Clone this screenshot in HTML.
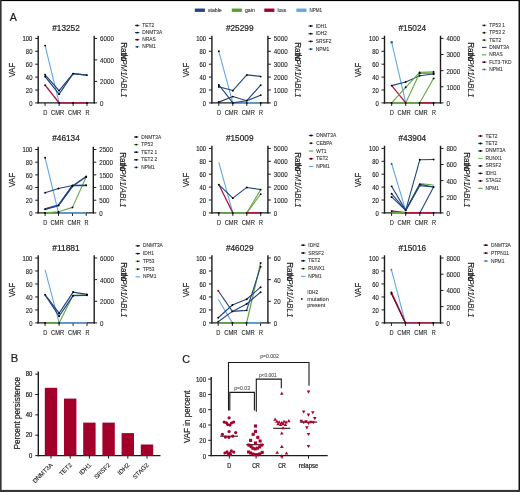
<!DOCTYPE html><html><head><meta charset="utf-8"><style>html,body{margin:0;padding:0;background:#fff;overflow:hidden}svg{display:block;will-change:transform}</style></head><body>
<svg width="520" height="492" viewBox="0 0 520 492" style="font-family:'Liberation Sans',sans-serif">
<style>text{stroke:#222;stroke-width:0.22px}</style>
<rect x="0" y="0" width="520" height="492" fill="#fff"/>
<rect x="194.8" y="8.55" width="10.1" height="3.35" fill="#22447f"/>
<text x="207.90" y="11.95" font-size="5.9" text-anchor="start" fill="#2e2e2e" textLength="13.8" lengthAdjust="spacingAndGlyphs"  style="stroke:#555;stroke-width:0.15px">stable</text>
<rect x="231.8" y="8.55" width="10.1" height="3.35" fill="#58a02e"/>
<text x="244.90" y="11.95" font-size="5.9" text-anchor="start" fill="#2e2e2e" textLength="10.0" lengthAdjust="spacingAndGlyphs"  style="stroke:#555;stroke-width:0.15px">gain</text>
<rect x="264.3" y="8.55" width="10.1" height="3.35" fill="#a2002a"/>
<text x="277.40" y="11.95" font-size="5.9" text-anchor="start" fill="#2e2e2e" textLength="9.0" lengthAdjust="spacingAndGlyphs"  style="stroke:#555;stroke-width:0.15px">loss</text>
<rect x="296.4" y="8.55" width="10.1" height="3.35" fill="#62a6e6"/>
<text x="309.50" y="11.95" font-size="5.9" text-anchor="start" fill="#2e2e2e" textLength="12.5" lengthAdjust="spacingAndGlyphs"  style="stroke:#555;stroke-width:0.15px">NPM1</text>
<text x="9.70" y="21.00" font-size="10.6" text-anchor="start" fill="#1e1e1e"  style="">A</text>
<text x="10.70" y="362.30" font-size="11.2" text-anchor="start" fill="#1e1e1e"  style="">B</text>
<text x="182.30" y="362.70" font-size="10.8" text-anchor="start" fill="#1e1e1e"  style="">C</text>
<text x="66.00" y="30.90" font-size="8.6" text-anchor="middle" fill="#1e1e1e" textLength="27.6" lengthAdjust="spacingAndGlyphs"  style="">#13252</text>
<line x1="38.2" y1="35.7" x2="38.2" y2="103.60000000000001" stroke="#1c1c1c" stroke-width="1.4"/>
<line x1="94.2" y1="35.7" x2="94.2" y2="103.60000000000001" stroke="#1c1c1c" stroke-width="1.4"/>
<line x1="37.5" y1="102.9" x2="94.9" y2="102.9" stroke="#1c1c1c" stroke-width="1.4"/>
<line x1="35.2" y1="102.90" x2="38.2" y2="102.90" stroke="#1c1c1c" stroke-width="1"/>
<text x="32.40" y="105.80" font-size="6.9" text-anchor="end" fill="#1e1e1e" textLength="3.27" lengthAdjust="spacingAndGlyphs"  style="stroke-width:0.14px">0</text>
<line x1="35.2" y1="90.00" x2="38.2" y2="90.00" stroke="#1c1c1c" stroke-width="1"/>
<text x="32.40" y="92.90" font-size="6.9" text-anchor="end" fill="#1e1e1e" textLength="6.54" lengthAdjust="spacingAndGlyphs"  style="stroke-width:0.14px">20</text>
<line x1="35.2" y1="77.10" x2="38.2" y2="77.10" stroke="#1c1c1c" stroke-width="1"/>
<text x="32.40" y="80.00" font-size="6.9" text-anchor="end" fill="#1e1e1e" textLength="6.54" lengthAdjust="spacingAndGlyphs"  style="stroke-width:0.14px">40</text>
<line x1="35.2" y1="64.20" x2="38.2" y2="64.20" stroke="#1c1c1c" stroke-width="1"/>
<text x="32.40" y="67.10" font-size="6.9" text-anchor="end" fill="#1e1e1e" textLength="6.54" lengthAdjust="spacingAndGlyphs"  style="stroke-width:0.14px">60</text>
<line x1="35.2" y1="51.30" x2="38.2" y2="51.30" stroke="#1c1c1c" stroke-width="1"/>
<text x="32.40" y="54.20" font-size="6.9" text-anchor="end" fill="#1e1e1e" textLength="6.54" lengthAdjust="spacingAndGlyphs"  style="stroke-width:0.14px">80</text>
<line x1="35.2" y1="38.40" x2="38.2" y2="38.40" stroke="#1c1c1c" stroke-width="1"/>
<text x="32.40" y="41.30" font-size="6.9" text-anchor="end" fill="#1e1e1e" textLength="9.81" lengthAdjust="spacingAndGlyphs"  style="stroke-width:0.14px">100</text>
<line x1="94.2" y1="102.90" x2="97.2" y2="102.90" stroke="#1c1c1c" stroke-width="1"/>
<text x="100.10" y="105.80" font-size="6.9" text-anchor="start" fill="#1e1e1e" textLength="3.45" lengthAdjust="spacingAndGlyphs"  style="stroke-width:0.1px">0</text>
<line x1="94.2" y1="81.40" x2="97.2" y2="81.40" stroke="#1c1c1c" stroke-width="1"/>
<text x="100.10" y="84.30" font-size="6.9" text-anchor="start" fill="#1e1e1e" textLength="13.8" lengthAdjust="spacingAndGlyphs"  style="stroke-width:0.1px">2000</text>
<line x1="94.2" y1="59.90" x2="97.2" y2="59.90" stroke="#1c1c1c" stroke-width="1"/>
<text x="100.10" y="62.80" font-size="6.9" text-anchor="start" fill="#1e1e1e" textLength="13.8" lengthAdjust="spacingAndGlyphs"  style="stroke-width:0.1px">4000</text>
<line x1="94.2" y1="38.40" x2="97.2" y2="38.40" stroke="#1c1c1c" stroke-width="1"/>
<text x="100.10" y="41.30" font-size="6.9" text-anchor="start" fill="#1e1e1e" textLength="13.8" lengthAdjust="spacingAndGlyphs"  style="stroke-width:0.1px">6000</text>
<line x1="45.10" y1="102.9" x2="45.10" y2="105.9" stroke="#1c1c1c" stroke-width="1"/>
<line x1="59.10" y1="102.9" x2="59.10" y2="105.9" stroke="#1c1c1c" stroke-width="1"/>
<line x1="73.10" y1="102.9" x2="73.10" y2="105.9" stroke="#1c1c1c" stroke-width="1"/>
<line x1="87.00" y1="102.9" x2="87.00" y2="105.9" stroke="#1c1c1c" stroke-width="1"/>
<text x="45.30" y="115.10" font-size="6.9" text-anchor="middle" fill="#1e1e1e" textLength="4.1" lengthAdjust="spacingAndGlyphs"  style="stroke-width:0.1px">D</text>
<text x="57.60" y="115.10" font-size="6.9" text-anchor="middle" fill="#1e1e1e" textLength="13.2" lengthAdjust="spacingAndGlyphs"  style="stroke-width:0.1px">CMR</text>
<text x="74.60" y="115.10" font-size="6.9" text-anchor="middle" fill="#1e1e1e" textLength="13.2" lengthAdjust="spacingAndGlyphs"  style="stroke-width:0.1px">CMR</text>
<text x="87.40" y="115.10" font-size="6.9" text-anchor="middle" fill="#1e1e1e" textLength="4.0" lengthAdjust="spacingAndGlyphs"  style="stroke-width:0.1px">R</text>
<text x="0" y="0" font-size="8.6" text-anchor="middle" fill="#1e1e1e" textLength="14.4" lengthAdjust="spacingAndGlyphs" transform="translate(14.80,70.00) rotate(-90)">VAF</text>
<text x="0" y="0" font-size="8.6" fill="#1e1e1e" textLength="19" lengthAdjust="spacingAndGlyphs" transform="translate(121.20,42.20) rotate(90)">Ratio</text>
<text x="0" y="0" font-size="8.6" font-style="italic" fill="#1e1e1e" textLength="44" lengthAdjust="spacingAndGlyphs" style="stroke-width:0.05px" transform="translate(121.20,53.40) rotate(90)">NPM1/ABL1</text>
<line x1="135.00" y1="25.50" x2="139.40" y2="25.50" stroke="#22447f" stroke-width="1.2"/>
<circle cx="137.20" cy="25.50" r="0.9" fill="#000"/>
<text x="142.30" y="27.00" font-size="5.7" text-anchor="start" fill="#2c2c2c" textLength="11.86" lengthAdjust="spacingAndGlyphs"  style="stroke:#555;stroke-width:0.12px">TET2</text>
<line x1="135.00" y1="32.60" x2="139.40" y2="32.60" stroke="#22447f" stroke-width="1.2"/>
<circle cx="137.20" cy="32.60" r="0.9" fill="#000"/>
<text x="142.30" y="34.10" font-size="5.7" text-anchor="start" fill="#2c2c2c" textLength="19.94" lengthAdjust="spacingAndGlyphs"  style="stroke:#555;stroke-width:0.12px">DNMT3A</text>
<line x1="135.00" y1="39.70" x2="139.40" y2="39.70" stroke="#b41842" stroke-width="1.2"/>
<circle cx="137.20" cy="39.70" r="0.9" fill="#000"/>
<text x="142.30" y="41.20" font-size="5.7" text-anchor="start" fill="#2c2c2c" textLength="13.47" lengthAdjust="spacingAndGlyphs"  style="stroke:#555;stroke-width:0.12px">NRAS</text>
<line x1="135.00" y1="46.80" x2="139.40" y2="46.80" stroke="#62a6e6" stroke-width="1.2"/>
<circle cx="137.20" cy="46.80" r="0.9" fill="#000"/>
<text x="142.30" y="48.30" font-size="5.7" text-anchor="start" fill="#2c2c2c" textLength="13.47" lengthAdjust="spacingAndGlyphs"  style="stroke:#555;stroke-width:0.12px">NPM1</text>
<polyline points="45.10,45.62 59.10,102.90" fill="none" stroke="#62a6e6" stroke-width="1.1" stroke-linejoin="round"/>
<polyline points="45.10,85.10 59.10,102.90 73.10,102.90 87.00,102.90" fill="none" stroke="#b41842" stroke-width="1.5" stroke-linejoin="round"/>
<polyline points="45.10,74.78 59.10,90.58 73.10,73.62 87.00,75.10" fill="none" stroke="#22447f" stroke-width="1.2" stroke-linejoin="round"/>
<polyline points="45.10,76.58 59.10,94.13 73.10,73.62 87.00,75.10" fill="none" stroke="#22447f" stroke-width="1.2" stroke-linejoin="round"/>
<circle cx="45.10" cy="45.62" r="0.95" fill="#000"/>
<circle cx="45.10" cy="85.10" r="0.95" fill="#000"/>
<circle cx="45.10" cy="74.78" r="0.95" fill="#000"/>
<circle cx="45.10" cy="76.58" r="0.95" fill="#000"/>
<circle cx="59.10" cy="90.58" r="0.95" fill="#000"/>
<circle cx="59.10" cy="94.13" r="0.95" fill="#000"/>
<circle cx="59.10" cy="102.90" r="0.95" fill="#000"/>
<circle cx="73.10" cy="73.62" r="0.95" fill="#000"/>
<circle cx="87.00" cy="75.10" r="0.95" fill="#000"/>
<circle cx="73.10" cy="102.90" r="0.95" fill="#000"/>
<circle cx="87.00" cy="102.90" r="0.95" fill="#000"/>
<text x="239.70" y="30.90" font-size="8.6" text-anchor="middle" fill="#1e1e1e" textLength="27.6" lengthAdjust="spacingAndGlyphs"  style="">#25299</text>
<line x1="211.9" y1="35.7" x2="211.9" y2="103.60000000000001" stroke="#1c1c1c" stroke-width="1.4"/>
<line x1="267.9" y1="35.7" x2="267.9" y2="103.60000000000001" stroke="#1c1c1c" stroke-width="1.4"/>
<line x1="211.20000000000002" y1="102.9" x2="268.59999999999997" y2="102.9" stroke="#1c1c1c" stroke-width="1.4"/>
<line x1="208.9" y1="102.90" x2="211.9" y2="102.90" stroke="#1c1c1c" stroke-width="1"/>
<text x="206.10" y="105.80" font-size="6.9" text-anchor="end" fill="#1e1e1e" textLength="3.27" lengthAdjust="spacingAndGlyphs"  style="stroke-width:0.14px">0</text>
<line x1="208.9" y1="90.00" x2="211.9" y2="90.00" stroke="#1c1c1c" stroke-width="1"/>
<text x="206.10" y="92.90" font-size="6.9" text-anchor="end" fill="#1e1e1e" textLength="6.54" lengthAdjust="spacingAndGlyphs"  style="stroke-width:0.14px">20</text>
<line x1="208.9" y1="77.10" x2="211.9" y2="77.10" stroke="#1c1c1c" stroke-width="1"/>
<text x="206.10" y="80.00" font-size="6.9" text-anchor="end" fill="#1e1e1e" textLength="6.54" lengthAdjust="spacingAndGlyphs"  style="stroke-width:0.14px">40</text>
<line x1="208.9" y1="64.20" x2="211.9" y2="64.20" stroke="#1c1c1c" stroke-width="1"/>
<text x="206.10" y="67.10" font-size="6.9" text-anchor="end" fill="#1e1e1e" textLength="6.54" lengthAdjust="spacingAndGlyphs"  style="stroke-width:0.14px">60</text>
<line x1="208.9" y1="51.30" x2="211.9" y2="51.30" stroke="#1c1c1c" stroke-width="1"/>
<text x="206.10" y="54.20" font-size="6.9" text-anchor="end" fill="#1e1e1e" textLength="6.54" lengthAdjust="spacingAndGlyphs"  style="stroke-width:0.14px">80</text>
<line x1="208.9" y1="38.40" x2="211.9" y2="38.40" stroke="#1c1c1c" stroke-width="1"/>
<text x="206.10" y="41.30" font-size="6.9" text-anchor="end" fill="#1e1e1e" textLength="9.81" lengthAdjust="spacingAndGlyphs"  style="stroke-width:0.14px">100</text>
<line x1="267.9" y1="102.90" x2="270.9" y2="102.90" stroke="#1c1c1c" stroke-width="1"/>
<text x="273.80" y="105.80" font-size="6.9" text-anchor="start" fill="#1e1e1e" textLength="3.45" lengthAdjust="spacingAndGlyphs"  style="stroke-width:0.1px">0</text>
<line x1="267.9" y1="90.00" x2="270.9" y2="90.00" stroke="#1c1c1c" stroke-width="1"/>
<text x="273.80" y="92.90" font-size="6.9" text-anchor="start" fill="#1e1e1e" textLength="13.8" lengthAdjust="spacingAndGlyphs"  style="stroke-width:0.1px">1000</text>
<line x1="267.9" y1="77.10" x2="270.9" y2="77.10" stroke="#1c1c1c" stroke-width="1"/>
<text x="273.80" y="80.00" font-size="6.9" text-anchor="start" fill="#1e1e1e" textLength="13.8" lengthAdjust="spacingAndGlyphs"  style="stroke-width:0.1px">2000</text>
<line x1="267.9" y1="64.20" x2="270.9" y2="64.20" stroke="#1c1c1c" stroke-width="1"/>
<text x="273.80" y="67.10" font-size="6.9" text-anchor="start" fill="#1e1e1e" textLength="13.8" lengthAdjust="spacingAndGlyphs"  style="stroke-width:0.1px">3000</text>
<line x1="267.9" y1="51.30" x2="270.9" y2="51.30" stroke="#1c1c1c" stroke-width="1"/>
<text x="273.80" y="54.20" font-size="6.9" text-anchor="start" fill="#1e1e1e" textLength="13.8" lengthAdjust="spacingAndGlyphs"  style="stroke-width:0.1px">4000</text>
<line x1="267.9" y1="38.40" x2="270.9" y2="38.40" stroke="#1c1c1c" stroke-width="1"/>
<text x="273.80" y="41.30" font-size="6.9" text-anchor="start" fill="#1e1e1e" textLength="13.8" lengthAdjust="spacingAndGlyphs"  style="stroke-width:0.1px">5000</text>
<line x1="218.80" y1="102.9" x2="218.80" y2="105.9" stroke="#1c1c1c" stroke-width="1"/>
<line x1="232.80" y1="102.9" x2="232.80" y2="105.9" stroke="#1c1c1c" stroke-width="1"/>
<line x1="246.80" y1="102.9" x2="246.80" y2="105.9" stroke="#1c1c1c" stroke-width="1"/>
<line x1="260.70" y1="102.9" x2="260.70" y2="105.9" stroke="#1c1c1c" stroke-width="1"/>
<text x="219.00" y="115.10" font-size="6.9" text-anchor="middle" fill="#1e1e1e" textLength="4.1" lengthAdjust="spacingAndGlyphs"  style="stroke-width:0.1px">D</text>
<text x="231.30" y="115.10" font-size="6.9" text-anchor="middle" fill="#1e1e1e" textLength="13.2" lengthAdjust="spacingAndGlyphs"  style="stroke-width:0.1px">CMR</text>
<text x="248.30" y="115.10" font-size="6.9" text-anchor="middle" fill="#1e1e1e" textLength="13.2" lengthAdjust="spacingAndGlyphs"  style="stroke-width:0.1px">CMR</text>
<text x="261.10" y="115.10" font-size="6.9" text-anchor="middle" fill="#1e1e1e" textLength="4.0" lengthAdjust="spacingAndGlyphs"  style="stroke-width:0.1px">R</text>
<text x="0" y="0" font-size="8.6" text-anchor="middle" fill="#1e1e1e" textLength="14.4" lengthAdjust="spacingAndGlyphs" transform="translate(188.50,70.00) rotate(-90)">VAF</text>
<text x="0" y="0" font-size="8.6" fill="#1e1e1e" textLength="19" lengthAdjust="spacingAndGlyphs" transform="translate(294.90,42.20) rotate(90)">Ratio</text>
<text x="0" y="0" font-size="8.6" font-style="italic" fill="#1e1e1e" textLength="44" lengthAdjust="spacingAndGlyphs" style="stroke-width:0.05px" transform="translate(294.90,53.40) rotate(90)">NPM1/ABL1</text>
<line x1="308.50" y1="26.00" x2="312.90" y2="26.00" stroke="#22447f" stroke-width="1.2"/>
<circle cx="310.70" cy="26.00" r="0.9" fill="#000"/>
<text x="315.80" y="27.50" font-size="5.7" text-anchor="start" fill="#2c2c2c" textLength="11.05" lengthAdjust="spacingAndGlyphs"  style="stroke:#555;stroke-width:0.12px">IDH1</text>
<line x1="308.50" y1="33.70" x2="312.90" y2="33.70" stroke="#22447f" stroke-width="1.2"/>
<circle cx="310.70" cy="33.70" r="0.9" fill="#000"/>
<text x="315.80" y="35.20" font-size="5.7" text-anchor="start" fill="#2c2c2c" textLength="11.05" lengthAdjust="spacingAndGlyphs"  style="stroke:#555;stroke-width:0.12px">IDH2</text>
<line x1="308.50" y1="41.40" x2="312.90" y2="41.40" stroke="#b41842" stroke-width="1.2"/>
<circle cx="310.70" cy="41.40" r="0.9" fill="#000"/>
<text x="315.80" y="42.90" font-size="5.7" text-anchor="start" fill="#2c2c2c" textLength="15.63" lengthAdjust="spacingAndGlyphs"  style="stroke:#555;stroke-width:0.12px">SRSF2</text>
<line x1="308.50" y1="49.10" x2="312.90" y2="49.10" stroke="#62a6e6" stroke-width="1.2"/>
<circle cx="310.70" cy="49.10" r="0.9" fill="#000"/>
<text x="315.80" y="50.60" font-size="5.7" text-anchor="start" fill="#2c2c2c" textLength="13.47" lengthAdjust="spacingAndGlyphs"  style="stroke:#555;stroke-width:0.12px">NPM1</text>
<polyline points="218.80,51.30 232.80,102.90 246.80,102.90 260.70,102.90" fill="none" stroke="#62a6e6" stroke-width="1.1" stroke-linejoin="round"/>
<polyline points="218.80,86.78 232.80,90.58 246.80,74.91 260.70,76.39" fill="none" stroke="#22447f" stroke-width="1.1" stroke-linejoin="round"/>
<polyline points="218.80,84.90 232.80,102.90 246.80,100.71 260.70,85.10" fill="none" stroke="#22447f" stroke-width="1.1" stroke-linejoin="round"/>
<polyline points="218.80,102.13 232.80,96.58 246.80,100.71 260.70,95.16" fill="none" stroke="#22447f" stroke-width="1.1" stroke-linejoin="round"/>
<circle cx="218.80" cy="51.30" r="0.95" fill="#000"/>
<circle cx="218.80" cy="86.90" r="0.95" fill="#000"/>
<circle cx="218.80" cy="84.97" r="0.95" fill="#000"/>
<circle cx="218.80" cy="102.00" r="0.95" fill="#000"/>
<circle cx="232.80" cy="90.65" r="0.95" fill="#000"/>
<circle cx="232.80" cy="96.58" r="0.95" fill="#000"/>
<circle cx="232.80" cy="102.90" r="0.95" fill="#000"/>
<circle cx="246.80" cy="100.64" r="0.95" fill="#000"/>
<circle cx="246.80" cy="102.90" r="0.95" fill="#000"/>
<circle cx="260.70" cy="76.58" r="0.95" fill="#000"/>
<circle cx="260.70" cy="85.16" r="0.95" fill="#000"/>
<circle cx="260.70" cy="95.16" r="0.95" fill="#000"/>
<circle cx="246.80" cy="75.10" r="0.95" fill="#000"/>
<circle cx="260.70" cy="102.90" r="0.95" fill="#000"/>
<text x="412.30" y="30.90" font-size="8.6" text-anchor="middle" fill="#1e1e1e" textLength="27.6" lengthAdjust="spacingAndGlyphs"  style="">#15024</text>
<line x1="384.5" y1="35.7" x2="384.5" y2="103.60000000000001" stroke="#1c1c1c" stroke-width="1.4"/>
<line x1="440.5" y1="35.7" x2="440.5" y2="103.60000000000001" stroke="#1c1c1c" stroke-width="1.4"/>
<line x1="383.8" y1="102.9" x2="441.2" y2="102.9" stroke="#1c1c1c" stroke-width="1.4"/>
<line x1="381.5" y1="102.90" x2="384.5" y2="102.90" stroke="#1c1c1c" stroke-width="1"/>
<text x="378.70" y="105.80" font-size="6.9" text-anchor="end" fill="#1e1e1e" textLength="3.27" lengthAdjust="spacingAndGlyphs"  style="stroke-width:0.14px">0</text>
<line x1="381.5" y1="90.00" x2="384.5" y2="90.00" stroke="#1c1c1c" stroke-width="1"/>
<text x="378.70" y="92.90" font-size="6.9" text-anchor="end" fill="#1e1e1e" textLength="6.54" lengthAdjust="spacingAndGlyphs"  style="stroke-width:0.14px">20</text>
<line x1="381.5" y1="77.10" x2="384.5" y2="77.10" stroke="#1c1c1c" stroke-width="1"/>
<text x="378.70" y="80.00" font-size="6.9" text-anchor="end" fill="#1e1e1e" textLength="6.54" lengthAdjust="spacingAndGlyphs"  style="stroke-width:0.14px">40</text>
<line x1="381.5" y1="64.20" x2="384.5" y2="64.20" stroke="#1c1c1c" stroke-width="1"/>
<text x="378.70" y="67.10" font-size="6.9" text-anchor="end" fill="#1e1e1e" textLength="6.54" lengthAdjust="spacingAndGlyphs"  style="stroke-width:0.14px">60</text>
<line x1="381.5" y1="51.30" x2="384.5" y2="51.30" stroke="#1c1c1c" stroke-width="1"/>
<text x="378.70" y="54.20" font-size="6.9" text-anchor="end" fill="#1e1e1e" textLength="6.54" lengthAdjust="spacingAndGlyphs"  style="stroke-width:0.14px">80</text>
<line x1="381.5" y1="38.40" x2="384.5" y2="38.40" stroke="#1c1c1c" stroke-width="1"/>
<text x="378.70" y="41.30" font-size="6.9" text-anchor="end" fill="#1e1e1e" textLength="9.81" lengthAdjust="spacingAndGlyphs"  style="stroke-width:0.14px">100</text>
<line x1="440.5" y1="102.90" x2="443.5" y2="102.90" stroke="#1c1c1c" stroke-width="1"/>
<text x="446.40" y="105.80" font-size="6.9" text-anchor="start" fill="#1e1e1e" textLength="3.45" lengthAdjust="spacingAndGlyphs"  style="stroke-width:0.1px">0</text>
<line x1="440.5" y1="86.78" x2="443.5" y2="86.78" stroke="#1c1c1c" stroke-width="1"/>
<text x="446.40" y="89.68" font-size="6.9" text-anchor="start" fill="#1e1e1e" textLength="13.8" lengthAdjust="spacingAndGlyphs"  style="stroke-width:0.1px">1000</text>
<line x1="440.5" y1="70.65" x2="443.5" y2="70.65" stroke="#1c1c1c" stroke-width="1"/>
<text x="446.40" y="73.55" font-size="6.9" text-anchor="start" fill="#1e1e1e" textLength="13.8" lengthAdjust="spacingAndGlyphs"  style="stroke-width:0.1px">2000</text>
<line x1="440.5" y1="54.53" x2="443.5" y2="54.53" stroke="#1c1c1c" stroke-width="1"/>
<text x="446.40" y="57.43" font-size="6.9" text-anchor="start" fill="#1e1e1e" textLength="13.8" lengthAdjust="spacingAndGlyphs"  style="stroke-width:0.1px">3000</text>
<line x1="440.5" y1="38.40" x2="443.5" y2="38.40" stroke="#1c1c1c" stroke-width="1"/>
<text x="446.40" y="41.30" font-size="6.9" text-anchor="start" fill="#1e1e1e" textLength="13.8" lengthAdjust="spacingAndGlyphs"  style="stroke-width:0.1px">4000</text>
<line x1="391.70" y1="102.9" x2="391.70" y2="105.9" stroke="#1c1c1c" stroke-width="1"/>
<line x1="405.70" y1="102.9" x2="405.70" y2="105.9" stroke="#1c1c1c" stroke-width="1"/>
<line x1="419.60" y1="102.9" x2="419.60" y2="105.9" stroke="#1c1c1c" stroke-width="1"/>
<line x1="433.60" y1="102.9" x2="433.60" y2="105.9" stroke="#1c1c1c" stroke-width="1"/>
<text x="391.90" y="115.10" font-size="6.9" text-anchor="middle" fill="#1e1e1e" textLength="4.1" lengthAdjust="spacingAndGlyphs"  style="stroke-width:0.1px">D</text>
<text x="404.20" y="115.10" font-size="6.9" text-anchor="middle" fill="#1e1e1e" textLength="13.2" lengthAdjust="spacingAndGlyphs"  style="stroke-width:0.1px">CMR</text>
<text x="421.10" y="115.10" font-size="6.9" text-anchor="middle" fill="#1e1e1e" textLength="13.2" lengthAdjust="spacingAndGlyphs"  style="stroke-width:0.1px">CMR</text>
<text x="434.00" y="115.10" font-size="6.9" text-anchor="middle" fill="#1e1e1e" textLength="4.0" lengthAdjust="spacingAndGlyphs"  style="stroke-width:0.1px">R</text>
<text x="0" y="0" font-size="8.6" text-anchor="middle" fill="#1e1e1e" textLength="14.4" lengthAdjust="spacingAndGlyphs" transform="translate(361.10,70.00) rotate(-90)">VAF</text>
<text x="0" y="0" font-size="8.6" fill="#1e1e1e" textLength="19" lengthAdjust="spacingAndGlyphs" transform="translate(467.50,42.20) rotate(90)">Ratio</text>
<text x="0" y="0" font-size="8.6" font-style="italic" fill="#1e1e1e" textLength="44" lengthAdjust="spacingAndGlyphs" style="stroke-width:0.05px" transform="translate(467.50,53.40) rotate(90)">NPM1/ABL1</text>
<line x1="482.00" y1="25.40" x2="486.40" y2="25.40" stroke="#66ab45" stroke-width="1.2"/>
<circle cx="484.20" cy="25.40" r="0.9" fill="#000"/>
<text x="489.30" y="26.90" font-size="5.7" text-anchor="start" fill="#2c2c2c" textLength="15.64" lengthAdjust="spacingAndGlyphs"  style="stroke:#555;stroke-width:0.12px">TP53 1</text>
<line x1="482.00" y1="32.75" x2="486.40" y2="32.75" stroke="#66ab45" stroke-width="1.2"/>
<circle cx="484.20" cy="32.75" r="0.9" fill="#000"/>
<text x="489.30" y="34.25" font-size="5.7" text-anchor="start" fill="#2c2c2c" textLength="15.64" lengthAdjust="spacingAndGlyphs"  style="stroke:#555;stroke-width:0.12px">TP53 2</text>
<line x1="482.00" y1="40.10" x2="486.40" y2="40.10" stroke="#66ab45" stroke-width="1.2"/>
<circle cx="484.20" cy="40.10" r="0.9" fill="#000"/>
<text x="489.30" y="41.60" font-size="5.7" text-anchor="start" fill="#2c2c2c" textLength="11.86" lengthAdjust="spacingAndGlyphs"  style="stroke:#555;stroke-width:0.12px">TET2</text>
<line x1="482.00" y1="47.45" x2="486.40" y2="47.45" stroke="#22447f" stroke-width="1.2"/>
<text x="489.30" y="48.95" font-size="5.7" text-anchor="start" fill="#2c2c2c" textLength="19.94" lengthAdjust="spacingAndGlyphs"  style="stroke:#555;stroke-width:0.12px">DNMT3A</text>
<line x1="482.00" y1="54.80" x2="486.40" y2="54.80" stroke="#66ab45" stroke-width="1.2"/>
<text x="489.30" y="56.30" font-size="5.7" text-anchor="start" fill="#2c2c2c" textLength="13.47" lengthAdjust="spacingAndGlyphs"  style="stroke:#555;stroke-width:0.12px">NRAS</text>
<line x1="482.00" y1="62.15" x2="486.40" y2="62.15" stroke="#b41842" stroke-width="1.2"/>
<circle cx="484.20" cy="62.15" r="0.9" fill="#000"/>
<text x="489.30" y="63.65" font-size="5.7" text-anchor="start" fill="#2c2c2c" textLength="22.28" lengthAdjust="spacingAndGlyphs"  style="stroke:#555;stroke-width:0.12px">FLT3-TKD</text>
<line x1="482.00" y1="69.50" x2="486.40" y2="69.50" stroke="#62a6e6" stroke-width="1.2"/>
<circle cx="484.20" cy="69.50" r="0.9" fill="#3a6ea5"/>
<text x="489.30" y="71.00" font-size="5.7" text-anchor="start" fill="#2c2c2c" textLength="13.47" lengthAdjust="spacingAndGlyphs"  style="stroke:#555;stroke-width:0.12px">NPM1</text>
<polygon points="419.60,72.33 433.60,71.94 433.60,74.07 419.60,73.75" fill="#bcdba3"/>
<polyline points="391.70,42.27 405.70,102.90" fill="none" stroke="#62a6e6" stroke-width="1.1" stroke-linejoin="round"/>
<polyline points="391.70,102.90 405.70,102.90 419.60,102.90" fill="none" stroke="#66ab45" stroke-width="1.4" stroke-linejoin="round"/>
<polyline points="391.70,85.61 405.70,102.90" fill="none" stroke="#b41842" stroke-width="1.3" stroke-linejoin="round"/>
<polyline points="419.60,102.90 433.60,102.90" fill="none" stroke="#b41842" stroke-width="1.6" stroke-linejoin="round"/>
<polyline points="391.70,85.61 405.70,82.00 419.60,75.81 433.60,74.07" fill="none" stroke="#22447f" stroke-width="1.1" stroke-linejoin="round"/>
<polyline points="391.70,102.90 405.70,87.29 419.60,72.33 433.60,71.94" fill="none" stroke="#66ab45" stroke-width="1.2" stroke-linejoin="round"/>
<polyline points="405.70,102.90 419.60,73.29 433.60,73.81" fill="none" stroke="#66ab45" stroke-width="1.1" stroke-linejoin="round"/>
<polyline points="419.60,102.90 433.60,78.39" fill="none" stroke="#66ab45" stroke-width="1.1" stroke-linejoin="round"/>
<circle cx="391.70" cy="85.61" r="0.95" fill="#000"/>
<circle cx="405.70" cy="82.00" r="0.95" fill="#000"/>
<circle cx="405.70" cy="87.29" r="0.95" fill="#000"/>
<circle cx="405.70" cy="102.90" r="0.95" fill="#000"/>
<circle cx="391.70" cy="102.90" r="0.95" fill="#000"/>
<circle cx="419.60" cy="72.33" r="0.95" fill="#000"/>
<circle cx="419.60" cy="73.29" r="0.95" fill="#000"/>
<circle cx="419.60" cy="75.81" r="0.95" fill="#000"/>
<circle cx="433.60" cy="71.94" r="0.95" fill="#000"/>
<circle cx="433.60" cy="73.81" r="0.95" fill="#000"/>
<circle cx="433.60" cy="74.07" r="0.95" fill="#000"/>
<circle cx="433.60" cy="78.39" r="0.95" fill="#000"/>
<circle cx="419.60" cy="102.90" r="0.95" fill="#000"/>
<circle cx="433.60" cy="102.90" r="0.95" fill="#000"/>
<circle cx="391.70" cy="42.27" r="1.25" fill="#35618f"/>
<text x="66.00" y="140.90" font-size="8.6" text-anchor="middle" fill="#1e1e1e" textLength="27.6" lengthAdjust="spacingAndGlyphs"  style="">#46134</text>
<line x1="38.2" y1="146.8" x2="38.2" y2="213.6" stroke="#1c1c1c" stroke-width="1.4"/>
<line x1="93.30000000000001" y1="146.8" x2="93.30000000000001" y2="213.6" stroke="#1c1c1c" stroke-width="1.4"/>
<line x1="37.5" y1="212.9" x2="94.00000000000001" y2="212.9" stroke="#1c1c1c" stroke-width="1.4"/>
<line x1="35.2" y1="212.90" x2="38.2" y2="212.90" stroke="#1c1c1c" stroke-width="1"/>
<text x="32.40" y="215.80" font-size="6.9" text-anchor="end" fill="#1e1e1e" textLength="3.27" lengthAdjust="spacingAndGlyphs"  style="stroke-width:0.14px">0</text>
<line x1="35.2" y1="200.22" x2="38.2" y2="200.22" stroke="#1c1c1c" stroke-width="1"/>
<text x="32.40" y="203.12" font-size="6.9" text-anchor="end" fill="#1e1e1e" textLength="6.54" lengthAdjust="spacingAndGlyphs"  style="stroke-width:0.14px">20</text>
<line x1="35.2" y1="187.54" x2="38.2" y2="187.54" stroke="#1c1c1c" stroke-width="1"/>
<text x="32.40" y="190.44" font-size="6.9" text-anchor="end" fill="#1e1e1e" textLength="6.54" lengthAdjust="spacingAndGlyphs"  style="stroke-width:0.14px">40</text>
<line x1="35.2" y1="174.86" x2="38.2" y2="174.86" stroke="#1c1c1c" stroke-width="1"/>
<text x="32.40" y="177.76" font-size="6.9" text-anchor="end" fill="#1e1e1e" textLength="6.54" lengthAdjust="spacingAndGlyphs"  style="stroke-width:0.14px">60</text>
<line x1="35.2" y1="162.18" x2="38.2" y2="162.18" stroke="#1c1c1c" stroke-width="1"/>
<text x="32.40" y="165.08" font-size="6.9" text-anchor="end" fill="#1e1e1e" textLength="6.54" lengthAdjust="spacingAndGlyphs"  style="stroke-width:0.14px">80</text>
<line x1="35.2" y1="149.50" x2="38.2" y2="149.50" stroke="#1c1c1c" stroke-width="1"/>
<text x="32.40" y="152.40" font-size="6.9" text-anchor="end" fill="#1e1e1e" textLength="9.81" lengthAdjust="spacingAndGlyphs"  style="stroke-width:0.14px">100</text>
<line x1="93.30000000000001" y1="212.90" x2="96.30000000000001" y2="212.90" stroke="#1c1c1c" stroke-width="1"/>
<text x="99.20" y="215.80" font-size="6.9" text-anchor="start" fill="#1e1e1e" textLength="3.45" lengthAdjust="spacingAndGlyphs"  style="stroke-width:0.1px">0</text>
<line x1="93.30000000000001" y1="200.22" x2="96.30000000000001" y2="200.22" stroke="#1c1c1c" stroke-width="1"/>
<text x="99.20" y="203.12" font-size="6.9" text-anchor="start" fill="#1e1e1e" textLength="10.350000000000001" lengthAdjust="spacingAndGlyphs"  style="stroke-width:0.1px">500</text>
<line x1="93.30000000000001" y1="187.54" x2="96.30000000000001" y2="187.54" stroke="#1c1c1c" stroke-width="1"/>
<text x="99.20" y="190.44" font-size="6.9" text-anchor="start" fill="#1e1e1e" textLength="13.8" lengthAdjust="spacingAndGlyphs"  style="stroke-width:0.1px">1000</text>
<line x1="93.30000000000001" y1="174.86" x2="96.30000000000001" y2="174.86" stroke="#1c1c1c" stroke-width="1"/>
<text x="99.20" y="177.76" font-size="6.9" text-anchor="start" fill="#1e1e1e" textLength="13.8" lengthAdjust="spacingAndGlyphs"  style="stroke-width:0.1px">1500</text>
<line x1="93.30000000000001" y1="162.18" x2="96.30000000000001" y2="162.18" stroke="#1c1c1c" stroke-width="1"/>
<text x="99.20" y="165.08" font-size="6.9" text-anchor="start" fill="#1e1e1e" textLength="13.8" lengthAdjust="spacingAndGlyphs"  style="stroke-width:0.1px">2000</text>
<line x1="93.30000000000001" y1="149.50" x2="96.30000000000001" y2="149.50" stroke="#1c1c1c" stroke-width="1"/>
<text x="99.20" y="152.40" font-size="6.9" text-anchor="start" fill="#1e1e1e" textLength="13.8" lengthAdjust="spacingAndGlyphs"  style="stroke-width:0.1px">2500</text>
<line x1="45.10" y1="212.9" x2="45.10" y2="215.9" stroke="#1c1c1c" stroke-width="1"/>
<line x1="58.50" y1="212.9" x2="58.50" y2="215.9" stroke="#1c1c1c" stroke-width="1"/>
<line x1="72.50" y1="212.9" x2="72.50" y2="215.9" stroke="#1c1c1c" stroke-width="1"/>
<line x1="86.20" y1="212.9" x2="86.20" y2="215.9" stroke="#1c1c1c" stroke-width="1"/>
<text x="45.30" y="225.10" font-size="6.9" text-anchor="middle" fill="#1e1e1e" textLength="4.1" lengthAdjust="spacingAndGlyphs"  style="stroke-width:0.1px">D</text>
<text x="57.00" y="225.10" font-size="6.9" text-anchor="middle" fill="#1e1e1e" textLength="13.2" lengthAdjust="spacingAndGlyphs"  style="stroke-width:0.1px">CMR</text>
<text x="74.00" y="225.10" font-size="6.9" text-anchor="middle" fill="#1e1e1e" textLength="13.2" lengthAdjust="spacingAndGlyphs"  style="stroke-width:0.1px">CMR</text>
<text x="86.60" y="225.10" font-size="6.9" text-anchor="middle" fill="#1e1e1e" textLength="4.0" lengthAdjust="spacingAndGlyphs"  style="stroke-width:0.1px">R</text>
<text x="0" y="0" font-size="8.6" text-anchor="middle" fill="#1e1e1e" textLength="14.4" lengthAdjust="spacingAndGlyphs" transform="translate(14.80,180.00) rotate(-90)">VAF</text>
<text x="0" y="0" font-size="8.6" fill="#1e1e1e" textLength="19" lengthAdjust="spacingAndGlyphs" transform="translate(120.30,152.20) rotate(90)">Ratio</text>
<text x="0" y="0" font-size="8.6" font-style="italic" fill="#1e1e1e" textLength="44" lengthAdjust="spacingAndGlyphs" style="stroke-width:0.05px" transform="translate(120.30,163.40) rotate(90)">NPM1/ABL1</text>
<line x1="134.00" y1="137.00" x2="138.40" y2="137.00" stroke="#22447f" stroke-width="1.2"/>
<circle cx="136.20" cy="137.00" r="0.9" fill="#000"/>
<text x="141.30" y="138.50" font-size="5.7" text-anchor="start" fill="#2c2c2c" textLength="19.94" lengthAdjust="spacingAndGlyphs"  style="stroke:#555;stroke-width:0.12px">DNMT3A</text>
<line x1="134.00" y1="144.60" x2="138.40" y2="144.60" stroke="#66ab45" stroke-width="1.2"/>
<circle cx="136.20" cy="144.60" r="0.9" fill="#000"/>
<text x="141.30" y="146.10" font-size="5.7" text-anchor="start" fill="#2c2c2c" textLength="11.59" lengthAdjust="spacingAndGlyphs"  style="stroke:#555;stroke-width:0.12px">TP53</text>
<line x1="134.00" y1="152.20" x2="138.40" y2="152.20" stroke="#22447f" stroke-width="1.2"/>
<circle cx="136.20" cy="152.20" r="0.9" fill="#000"/>
<text x="141.30" y="153.70" font-size="5.7" text-anchor="start" fill="#2c2c2c" textLength="15.9" lengthAdjust="spacingAndGlyphs"  style="stroke:#555;stroke-width:0.12px">TET2 1</text>
<line x1="134.00" y1="159.80" x2="138.40" y2="159.80" stroke="#22447f" stroke-width="1.2"/>
<circle cx="136.20" cy="159.80" r="0.9" fill="#000"/>
<text x="141.30" y="161.30" font-size="5.7" text-anchor="start" fill="#2c2c2c" textLength="15.9" lengthAdjust="spacingAndGlyphs"  style="stroke:#555;stroke-width:0.12px">TET2 2</text>
<line x1="134.00" y1="167.40" x2="138.40" y2="167.40" stroke="#62a6e6" stroke-width="1.2"/>
<circle cx="136.20" cy="167.40" r="0.9" fill="#000"/>
<text x="141.30" y="168.90" font-size="5.7" text-anchor="start" fill="#2c2c2c" textLength="13.47" lengthAdjust="spacingAndGlyphs"  style="stroke:#555;stroke-width:0.12px">NPM1</text>
<polyline points="45.10,157.81 58.50,212.90 72.50,212.90 86.20,212.90" fill="none" stroke="#62a6e6" stroke-width="1.1" stroke-linejoin="round"/>
<polyline points="45.10,212.90 58.50,211.82 72.50,207.38 86.20,177.08" fill="none" stroke="#66ab45" stroke-width="1.1" stroke-linejoin="round"/>
<polyline points="45.10,192.68 58.50,188.43 72.50,185.51 86.20,185.19" fill="none" stroke="#22447f" stroke-width="1.1" stroke-linejoin="round"/>
<polyline points="45.10,209.29 58.50,205.42 72.50,186.21 86.20,176.57" fill="none" stroke="#22447f" stroke-width="1.5" stroke-linejoin="round"/>
<polyline points="45.10,208.97 58.50,205.10 72.50,185.51 86.20,185.38" fill="none" stroke="#22447f" stroke-width="1.5" stroke-linejoin="round"/>
<circle cx="45.10" cy="157.81" r="0.95" fill="#000"/>
<circle cx="45.10" cy="212.90" r="0.95" fill="#000"/>
<circle cx="58.50" cy="211.82" r="0.95" fill="#000"/>
<circle cx="72.50" cy="207.38" r="0.95" fill="#000"/>
<circle cx="86.20" cy="177.08" r="0.95" fill="#000"/>
<circle cx="45.10" cy="192.68" r="0.95" fill="#000"/>
<circle cx="58.50" cy="188.43" r="0.95" fill="#000"/>
<circle cx="72.50" cy="185.51" r="0.95" fill="#000"/>
<circle cx="86.20" cy="185.19" r="0.95" fill="#000"/>
<circle cx="45.10" cy="209.29" r="0.95" fill="#000"/>
<circle cx="58.50" cy="205.42" r="0.95" fill="#000"/>
<circle cx="72.50" cy="186.21" r="0.95" fill="#000"/>
<circle cx="86.20" cy="176.57" r="0.95" fill="#000"/>
<circle cx="58.50" cy="212.90" r="0.95" fill="#000"/>
<text x="239.70" y="140.90" font-size="8.6" text-anchor="middle" fill="#1e1e1e" textLength="27.6" lengthAdjust="spacingAndGlyphs"  style="">#15009</text>
<line x1="211.9" y1="145.70000000000002" x2="211.9" y2="213.6" stroke="#1c1c1c" stroke-width="1.4"/>
<line x1="267.9" y1="145.70000000000002" x2="267.9" y2="213.6" stroke="#1c1c1c" stroke-width="1.4"/>
<line x1="211.20000000000002" y1="212.9" x2="268.59999999999997" y2="212.9" stroke="#1c1c1c" stroke-width="1.4"/>
<line x1="208.9" y1="212.90" x2="211.9" y2="212.90" stroke="#1c1c1c" stroke-width="1"/>
<text x="206.10" y="215.80" font-size="6.9" text-anchor="end" fill="#1e1e1e" textLength="3.27" lengthAdjust="spacingAndGlyphs"  style="stroke-width:0.14px">0</text>
<line x1="208.9" y1="200.00" x2="211.9" y2="200.00" stroke="#1c1c1c" stroke-width="1"/>
<text x="206.10" y="202.90" font-size="6.9" text-anchor="end" fill="#1e1e1e" textLength="6.54" lengthAdjust="spacingAndGlyphs"  style="stroke-width:0.14px">20</text>
<line x1="208.9" y1="187.10" x2="211.9" y2="187.10" stroke="#1c1c1c" stroke-width="1"/>
<text x="206.10" y="190.00" font-size="6.9" text-anchor="end" fill="#1e1e1e" textLength="6.54" lengthAdjust="spacingAndGlyphs"  style="stroke-width:0.14px">40</text>
<line x1="208.9" y1="174.20" x2="211.9" y2="174.20" stroke="#1c1c1c" stroke-width="1"/>
<text x="206.10" y="177.10" font-size="6.9" text-anchor="end" fill="#1e1e1e" textLength="6.54" lengthAdjust="spacingAndGlyphs"  style="stroke-width:0.14px">60</text>
<line x1="208.9" y1="161.30" x2="211.9" y2="161.30" stroke="#1c1c1c" stroke-width="1"/>
<text x="206.10" y="164.20" font-size="6.9" text-anchor="end" fill="#1e1e1e" textLength="6.54" lengthAdjust="spacingAndGlyphs"  style="stroke-width:0.14px">80</text>
<line x1="208.9" y1="148.40" x2="211.9" y2="148.40" stroke="#1c1c1c" stroke-width="1"/>
<text x="206.10" y="151.30" font-size="6.9" text-anchor="end" fill="#1e1e1e" textLength="9.81" lengthAdjust="spacingAndGlyphs"  style="stroke-width:0.14px">100</text>
<line x1="267.9" y1="212.90" x2="270.9" y2="212.90" stroke="#1c1c1c" stroke-width="1"/>
<text x="273.80" y="215.80" font-size="6.9" text-anchor="start" fill="#1e1e1e" textLength="3.45" lengthAdjust="spacingAndGlyphs"  style="stroke-width:0.1px">0</text>
<line x1="267.9" y1="200.00" x2="270.9" y2="200.00" stroke="#1c1c1c" stroke-width="1"/>
<text x="273.80" y="202.90" font-size="6.9" text-anchor="start" fill="#1e1e1e" textLength="13.8" lengthAdjust="spacingAndGlyphs"  style="stroke-width:0.1px">1000</text>
<line x1="267.9" y1="187.10" x2="270.9" y2="187.10" stroke="#1c1c1c" stroke-width="1"/>
<text x="273.80" y="190.00" font-size="6.9" text-anchor="start" fill="#1e1e1e" textLength="13.8" lengthAdjust="spacingAndGlyphs"  style="stroke-width:0.1px">2000</text>
<line x1="267.9" y1="174.20" x2="270.9" y2="174.20" stroke="#1c1c1c" stroke-width="1"/>
<text x="273.80" y="177.10" font-size="6.9" text-anchor="start" fill="#1e1e1e" textLength="13.8" lengthAdjust="spacingAndGlyphs"  style="stroke-width:0.1px">3000</text>
<line x1="267.9" y1="161.30" x2="270.9" y2="161.30" stroke="#1c1c1c" stroke-width="1"/>
<text x="273.80" y="164.20" font-size="6.9" text-anchor="start" fill="#1e1e1e" textLength="13.8" lengthAdjust="spacingAndGlyphs"  style="stroke-width:0.1px">4000</text>
<line x1="267.9" y1="148.40" x2="270.9" y2="148.40" stroke="#1c1c1c" stroke-width="1"/>
<text x="273.80" y="151.30" font-size="6.9" text-anchor="start" fill="#1e1e1e" textLength="13.8" lengthAdjust="spacingAndGlyphs"  style="stroke-width:0.1px">5000</text>
<line x1="218.80" y1="212.9" x2="218.80" y2="215.9" stroke="#1c1c1c" stroke-width="1"/>
<line x1="232.80" y1="212.9" x2="232.80" y2="215.9" stroke="#1c1c1c" stroke-width="1"/>
<line x1="246.80" y1="212.9" x2="246.80" y2="215.9" stroke="#1c1c1c" stroke-width="1"/>
<line x1="260.70" y1="212.9" x2="260.70" y2="215.9" stroke="#1c1c1c" stroke-width="1"/>
<text x="219.00" y="225.10" font-size="6.9" text-anchor="middle" fill="#1e1e1e" textLength="4.1" lengthAdjust="spacingAndGlyphs"  style="stroke-width:0.1px">D</text>
<text x="231.30" y="225.10" font-size="6.9" text-anchor="middle" fill="#1e1e1e" textLength="13.2" lengthAdjust="spacingAndGlyphs"  style="stroke-width:0.1px">CMR</text>
<text x="248.30" y="225.10" font-size="6.9" text-anchor="middle" fill="#1e1e1e" textLength="13.2" lengthAdjust="spacingAndGlyphs"  style="stroke-width:0.1px">CMR</text>
<text x="261.10" y="225.10" font-size="6.9" text-anchor="middle" fill="#1e1e1e" textLength="4.0" lengthAdjust="spacingAndGlyphs"  style="stroke-width:0.1px">R</text>
<text x="0" y="0" font-size="8.6" text-anchor="middle" fill="#1e1e1e" textLength="14.4" lengthAdjust="spacingAndGlyphs" transform="translate(188.50,180.00) rotate(-90)">VAF</text>
<text x="0" y="0" font-size="8.6" fill="#1e1e1e" textLength="19" lengthAdjust="spacingAndGlyphs" transform="translate(294.90,152.20) rotate(90)">Ratio</text>
<text x="0" y="0" font-size="8.6" font-style="italic" fill="#1e1e1e" textLength="44" lengthAdjust="spacingAndGlyphs" style="stroke-width:0.05px" transform="translate(294.90,163.40) rotate(90)">NPM1/ABL1</text>
<line x1="308.90" y1="135.50" x2="313.30" y2="135.50" stroke="#22447f" stroke-width="1.2"/>
<circle cx="311.10" cy="135.50" r="0.9" fill="#000"/>
<text x="316.20" y="137.00" font-size="5.7" text-anchor="start" fill="#2c2c2c" textLength="19.94" lengthAdjust="spacingAndGlyphs"  style="stroke:#555;stroke-width:0.12px">DNMT3A</text>
<line x1="308.90" y1="143.25" x2="313.30" y2="143.25" stroke="#66ab45" stroke-width="1.2"/>
<circle cx="311.10" cy="143.25" r="0.9" fill="#000"/>
<text x="316.20" y="144.75" font-size="5.7" text-anchor="start" fill="#2c2c2c" textLength="16.08" lengthAdjust="spacingAndGlyphs"  style="stroke:#555;stroke-width:0.12px">CEBPA</text>
<line x1="308.90" y1="151.00" x2="313.30" y2="151.00" stroke="#66ab45" stroke-width="1.2"/>
<text x="316.20" y="152.50" font-size="5.7" text-anchor="start" fill="#2c2c2c" textLength="10.24" lengthAdjust="spacingAndGlyphs"  style="stroke:#555;stroke-width:0.12px">WT1</text>
<line x1="308.90" y1="158.75" x2="313.30" y2="158.75" stroke="#b41842" stroke-width="1.2"/>
<circle cx="311.10" cy="158.75" r="0.9" fill="#000"/>
<text x="316.20" y="160.25" font-size="5.7" text-anchor="start" fill="#2c2c2c" textLength="11.86" lengthAdjust="spacingAndGlyphs"  style="stroke:#555;stroke-width:0.12px">TET2</text>
<line x1="308.90" y1="166.50" x2="313.30" y2="166.50" stroke="#62a6e6" stroke-width="1.2"/>
<text x="316.20" y="168.00" font-size="5.7" text-anchor="start" fill="#2c2c2c" textLength="13.47" lengthAdjust="spacingAndGlyphs"  style="stroke:#555;stroke-width:0.12px">NPM1</text>
<polyline points="218.80,162.40 232.80,212.90" fill="none" stroke="#62a6e6" stroke-width="1.1" stroke-linejoin="round"/>
<polyline points="218.80,212.90 232.80,212.90 246.80,212.90" fill="none" stroke="#66ab45" stroke-width="1.4" stroke-linejoin="round"/>
<polyline points="218.80,184.58 232.80,212.90" fill="none" stroke="#b41842" stroke-width="1.3" stroke-linejoin="round"/>
<polyline points="246.80,212.90 260.70,212.90" fill="none" stroke="#b41842" stroke-width="1.6" stroke-linejoin="round"/>
<polyline points="218.80,184.58 232.80,198.13 246.80,187.42 260.70,189.62" fill="none" stroke="#22447f" stroke-width="1.1" stroke-linejoin="round"/>
<polyline points="246.80,212.90 260.70,189.62" fill="none" stroke="#66ab45" stroke-width="1.1" stroke-linejoin="round"/>
<polyline points="246.80,212.90 260.70,194.13" fill="none" stroke="#66ab45" stroke-width="1.1" stroke-linejoin="round"/>
<circle cx="218.80" cy="184.58" r="0.95" fill="#000"/>
<circle cx="232.80" cy="198.13" r="0.95" fill="#000"/>
<circle cx="246.80" cy="187.42" r="0.95" fill="#000"/>
<circle cx="260.70" cy="189.62" r="0.95" fill="#000"/>
<circle cx="260.70" cy="194.13" r="0.95" fill="#000"/>
<circle cx="232.80" cy="212.90" r="0.95" fill="#000"/>
<circle cx="246.80" cy="212.90" r="0.95" fill="#000"/>
<circle cx="260.70" cy="212.90" r="0.95" fill="#000"/>
<circle cx="218.80" cy="212.90" r="0.95" fill="#000"/>
<text x="412.30" y="140.90" font-size="8.6" text-anchor="middle" fill="#1e1e1e" textLength="27.6" lengthAdjust="spacingAndGlyphs"  style="">#43904</text>
<line x1="384.5" y1="145.70000000000002" x2="384.5" y2="213.6" stroke="#1c1c1c" stroke-width="1.4"/>
<line x1="440.5" y1="145.70000000000002" x2="440.5" y2="213.6" stroke="#1c1c1c" stroke-width="1.4"/>
<line x1="383.8" y1="212.9" x2="441.2" y2="212.9" stroke="#1c1c1c" stroke-width="1.4"/>
<line x1="381.5" y1="212.90" x2="384.5" y2="212.90" stroke="#1c1c1c" stroke-width="1"/>
<text x="378.70" y="215.80" font-size="6.9" text-anchor="end" fill="#1e1e1e" textLength="3.27" lengthAdjust="spacingAndGlyphs"  style="stroke-width:0.14px">0</text>
<line x1="381.5" y1="200.00" x2="384.5" y2="200.00" stroke="#1c1c1c" stroke-width="1"/>
<text x="378.70" y="202.90" font-size="6.9" text-anchor="end" fill="#1e1e1e" textLength="6.54" lengthAdjust="spacingAndGlyphs"  style="stroke-width:0.14px">20</text>
<line x1="381.5" y1="187.10" x2="384.5" y2="187.10" stroke="#1c1c1c" stroke-width="1"/>
<text x="378.70" y="190.00" font-size="6.9" text-anchor="end" fill="#1e1e1e" textLength="6.54" lengthAdjust="spacingAndGlyphs"  style="stroke-width:0.14px">40</text>
<line x1="381.5" y1="174.20" x2="384.5" y2="174.20" stroke="#1c1c1c" stroke-width="1"/>
<text x="378.70" y="177.10" font-size="6.9" text-anchor="end" fill="#1e1e1e" textLength="6.54" lengthAdjust="spacingAndGlyphs"  style="stroke-width:0.14px">60</text>
<line x1="381.5" y1="161.30" x2="384.5" y2="161.30" stroke="#1c1c1c" stroke-width="1"/>
<text x="378.70" y="164.20" font-size="6.9" text-anchor="end" fill="#1e1e1e" textLength="6.54" lengthAdjust="spacingAndGlyphs"  style="stroke-width:0.14px">80</text>
<line x1="381.5" y1="148.40" x2="384.5" y2="148.40" stroke="#1c1c1c" stroke-width="1"/>
<text x="378.70" y="151.30" font-size="6.9" text-anchor="end" fill="#1e1e1e" textLength="9.81" lengthAdjust="spacingAndGlyphs"  style="stroke-width:0.14px">100</text>
<line x1="440.5" y1="212.90" x2="443.5" y2="212.90" stroke="#1c1c1c" stroke-width="1"/>
<text x="446.40" y="215.80" font-size="6.9" text-anchor="start" fill="#1e1e1e" textLength="3.45" lengthAdjust="spacingAndGlyphs"  style="stroke-width:0.1px">0</text>
<line x1="440.5" y1="196.78" x2="443.5" y2="196.78" stroke="#1c1c1c" stroke-width="1"/>
<text x="446.40" y="199.68" font-size="6.9" text-anchor="start" fill="#1e1e1e" textLength="10.350000000000001" lengthAdjust="spacingAndGlyphs"  style="stroke-width:0.1px">200</text>
<line x1="440.5" y1="180.65" x2="443.5" y2="180.65" stroke="#1c1c1c" stroke-width="1"/>
<text x="446.40" y="183.55" font-size="6.9" text-anchor="start" fill="#1e1e1e" textLength="10.350000000000001" lengthAdjust="spacingAndGlyphs"  style="stroke-width:0.1px">400</text>
<line x1="440.5" y1="164.53" x2="443.5" y2="164.53" stroke="#1c1c1c" stroke-width="1"/>
<text x="446.40" y="167.43" font-size="6.9" text-anchor="start" fill="#1e1e1e" textLength="10.350000000000001" lengthAdjust="spacingAndGlyphs"  style="stroke-width:0.1px">600</text>
<line x1="440.5" y1="148.40" x2="443.5" y2="148.40" stroke="#1c1c1c" stroke-width="1"/>
<text x="446.40" y="151.30" font-size="6.9" text-anchor="start" fill="#1e1e1e" textLength="10.350000000000001" lengthAdjust="spacingAndGlyphs"  style="stroke-width:0.1px">800</text>
<line x1="391.60" y1="212.9" x2="391.60" y2="215.9" stroke="#1c1c1c" stroke-width="1"/>
<line x1="405.70" y1="212.9" x2="405.70" y2="215.9" stroke="#1c1c1c" stroke-width="1"/>
<line x1="419.80" y1="212.9" x2="419.80" y2="215.9" stroke="#1c1c1c" stroke-width="1"/>
<line x1="433.60" y1="212.9" x2="433.60" y2="215.9" stroke="#1c1c1c" stroke-width="1"/>
<text x="391.80" y="225.10" font-size="6.9" text-anchor="middle" fill="#1e1e1e" textLength="4.1" lengthAdjust="spacingAndGlyphs"  style="stroke-width:0.1px">D</text>
<text x="404.20" y="225.10" font-size="6.9" text-anchor="middle" fill="#1e1e1e" textLength="13.2" lengthAdjust="spacingAndGlyphs"  style="stroke-width:0.1px">CMR</text>
<text x="421.30" y="225.10" font-size="6.9" text-anchor="middle" fill="#1e1e1e" textLength="13.2" lengthAdjust="spacingAndGlyphs"  style="stroke-width:0.1px">CMR</text>
<text x="434.00" y="225.10" font-size="6.9" text-anchor="middle" fill="#1e1e1e" textLength="4.0" lengthAdjust="spacingAndGlyphs"  style="stroke-width:0.1px">R</text>
<text x="0" y="0" font-size="8.6" text-anchor="middle" fill="#1e1e1e" textLength="14.4" lengthAdjust="spacingAndGlyphs" transform="translate(361.10,180.00) rotate(-90)">VAF</text>
<text x="0" y="0" font-size="8.6" fill="#1e1e1e" textLength="19" lengthAdjust="spacingAndGlyphs" transform="translate(464.20,152.20) rotate(90)">Ratio</text>
<text x="0" y="0" font-size="8.6" font-style="italic" fill="#1e1e1e" textLength="44" lengthAdjust="spacingAndGlyphs" style="stroke-width:0.05px" transform="translate(464.20,163.40) rotate(90)">NPM1/ABL1</text>
<line x1="478.20" y1="136.00" x2="482.60" y2="136.00" stroke="#b41842" stroke-width="1.2"/>
<circle cx="480.40" cy="136.00" r="0.9" fill="#000"/>
<text x="485.50" y="137.50" font-size="5.7" text-anchor="start" fill="#2c2c2c" textLength="11.86" lengthAdjust="spacingAndGlyphs"  style="stroke:#555;stroke-width:0.12px">TET2</text>
<line x1="478.20" y1="143.48" x2="482.60" y2="143.48" stroke="#22447f" stroke-width="1.2"/>
<circle cx="480.40" cy="143.48" r="0.9" fill="#000"/>
<text x="485.50" y="144.98" font-size="5.7" text-anchor="start" fill="#2c2c2c" textLength="11.86" lengthAdjust="spacingAndGlyphs"  style="stroke:#555;stroke-width:0.12px">TET2</text>
<line x1="478.20" y1="150.96" x2="482.60" y2="150.96" stroke="#22447f" stroke-width="1.2"/>
<circle cx="480.40" cy="150.96" r="0.9" fill="#000"/>
<text x="485.50" y="152.46" font-size="5.7" text-anchor="start" fill="#2c2c2c" textLength="19.94" lengthAdjust="spacingAndGlyphs"  style="stroke:#555;stroke-width:0.12px">DNMT3A</text>
<line x1="478.20" y1="158.44" x2="482.60" y2="158.44" stroke="#7cc05a" stroke-width="1.2"/>
<text x="485.50" y="159.94" font-size="5.7" text-anchor="start" fill="#2c2c2c" textLength="16.44" lengthAdjust="spacingAndGlyphs"  style="stroke:#555;stroke-width:0.12px">RUNX1</text>
<line x1="478.20" y1="165.92" x2="482.60" y2="165.92" stroke="#22447f" stroke-width="1.2"/>
<circle cx="480.40" cy="165.92" r="0.9" fill="#000"/>
<text x="485.50" y="167.42" font-size="5.7" text-anchor="start" fill="#2c2c2c" textLength="15.63" lengthAdjust="spacingAndGlyphs"  style="stroke:#555;stroke-width:0.12px">SRSF2</text>
<line x1="478.20" y1="173.40" x2="482.60" y2="173.40" stroke="#22447f" stroke-width="1.2"/>
<circle cx="480.40" cy="173.40" r="0.9" fill="#000"/>
<text x="485.50" y="174.90" font-size="5.7" text-anchor="start" fill="#2c2c2c" textLength="11.05" lengthAdjust="spacingAndGlyphs"  style="stroke:#555;stroke-width:0.12px">IDH1</text>
<line x1="478.20" y1="180.88" x2="482.60" y2="180.88" stroke="#b41842" stroke-width="1.2"/>
<circle cx="480.40" cy="180.88" r="0.9" fill="#000"/>
<text x="485.50" y="182.38" font-size="5.7" text-anchor="start" fill="#2c2c2c" textLength="15.54" lengthAdjust="spacingAndGlyphs"  style="stroke:#555;stroke-width:0.12px">STAG2</text>
<line x1="478.20" y1="188.36" x2="482.60" y2="188.36" stroke="#66ab45" stroke-width="1.2"/>
<text x="485.50" y="189.86" font-size="5.7" text-anchor="start" fill="#2c2c2c" textLength="13.47" lengthAdjust="spacingAndGlyphs"  style="stroke:#555;stroke-width:0.12px">NPM1</text>
<polyline points="391.60,163.49 405.70,210.38" fill="none" stroke="#62a6e6" stroke-width="1.1" stroke-linejoin="round"/>
<polyline points="391.60,211.09 405.70,212.90 419.80,212.90 433.60,212.90" fill="none" stroke="#b41842" stroke-width="1.6" stroke-linejoin="round"/>
<polyline points="391.60,212.25 405.70,212.90" fill="none" stroke="#66ab45" stroke-width="1.2" stroke-linejoin="round"/>
<polyline points="405.70,210.38 419.80,183.62 433.60,184.97" fill="none" stroke="#66ab45" stroke-width="1.1" stroke-linejoin="round"/>
<polyline points="391.60,186.33 405.70,210.38 419.80,159.82 433.60,159.49" fill="none" stroke="#22447f" stroke-width="1.1" stroke-linejoin="round"/>
<polyline points="391.60,193.68 405.70,210.38" fill="none" stroke="#22447f" stroke-width="1.1" stroke-linejoin="round"/>
<polyline points="391.60,196.97 405.70,210.38" fill="none" stroke="#22447f" stroke-width="1.1" stroke-linejoin="round"/>
<polyline points="405.70,210.38 419.80,184.33 433.60,186.97" fill="none" stroke="#22447f" stroke-width="1.1" stroke-linejoin="round"/>
<polyline points="405.70,210.38 419.80,185.62 433.60,186.97" fill="none" stroke="#22447f" stroke-width="1.1" stroke-linejoin="round"/>
<polyline points="419.80,212.90 433.60,186.97" fill="none" stroke="#22447f" stroke-width="1.1" stroke-linejoin="round"/>
<circle cx="391.60" cy="186.33" r="0.95" fill="#000"/>
<circle cx="391.60" cy="193.68" r="0.95" fill="#000"/>
<circle cx="391.60" cy="196.97" r="0.95" fill="#000"/>
<circle cx="405.70" cy="210.38" r="0.95" fill="#000"/>
<circle cx="419.80" cy="159.82" r="0.95" fill="#000"/>
<circle cx="433.60" cy="159.49" r="0.95" fill="#000"/>
<circle cx="419.80" cy="184.33" r="0.95" fill="#000"/>
<circle cx="433.60" cy="186.97" r="0.95" fill="#000"/>
<circle cx="391.60" cy="211.09" r="0.95" fill="#000"/>
<circle cx="405.70" cy="212.90" r="0.95" fill="#000"/>
<circle cx="419.80" cy="212.90" r="0.95" fill="#000"/>
<circle cx="433.60" cy="212.90" r="0.95" fill="#000"/>
<path d="M390.40,164.49 l1.2,-2 l1.2,2z" fill="#1e3d6e"/>
<text x="66.00" y="250.90" font-size="8.6" text-anchor="middle" fill="#1e1e1e" textLength="27.6" lengthAdjust="spacingAndGlyphs"  style="">#11881</text>
<line x1="38.2" y1="255.3" x2="38.2" y2="323.59999999999997" stroke="#1c1c1c" stroke-width="1.4"/>
<line x1="94.2" y1="255.3" x2="94.2" y2="323.59999999999997" stroke="#1c1c1c" stroke-width="1.4"/>
<line x1="37.5" y1="322.9" x2="94.9" y2="322.9" stroke="#1c1c1c" stroke-width="1.4"/>
<line x1="35.2" y1="322.90" x2="38.2" y2="322.90" stroke="#1c1c1c" stroke-width="1"/>
<text x="32.40" y="325.80" font-size="6.9" text-anchor="end" fill="#1e1e1e" textLength="3.27" lengthAdjust="spacingAndGlyphs"  style="stroke-width:0.14px">0</text>
<line x1="35.2" y1="309.92" x2="38.2" y2="309.92" stroke="#1c1c1c" stroke-width="1"/>
<text x="32.40" y="312.82" font-size="6.9" text-anchor="end" fill="#1e1e1e" textLength="6.54" lengthAdjust="spacingAndGlyphs"  style="stroke-width:0.14px">20</text>
<line x1="35.2" y1="296.94" x2="38.2" y2="296.94" stroke="#1c1c1c" stroke-width="1"/>
<text x="32.40" y="299.84" font-size="6.9" text-anchor="end" fill="#1e1e1e" textLength="6.54" lengthAdjust="spacingAndGlyphs"  style="stroke-width:0.14px">40</text>
<line x1="35.2" y1="283.96" x2="38.2" y2="283.96" stroke="#1c1c1c" stroke-width="1"/>
<text x="32.40" y="286.86" font-size="6.9" text-anchor="end" fill="#1e1e1e" textLength="6.54" lengthAdjust="spacingAndGlyphs"  style="stroke-width:0.14px">60</text>
<line x1="35.2" y1="270.98" x2="38.2" y2="270.98" stroke="#1c1c1c" stroke-width="1"/>
<text x="32.40" y="273.88" font-size="6.9" text-anchor="end" fill="#1e1e1e" textLength="6.54" lengthAdjust="spacingAndGlyphs"  style="stroke-width:0.14px">80</text>
<line x1="35.2" y1="258.00" x2="38.2" y2="258.00" stroke="#1c1c1c" stroke-width="1"/>
<text x="32.40" y="260.90" font-size="6.9" text-anchor="end" fill="#1e1e1e" textLength="9.81" lengthAdjust="spacingAndGlyphs"  style="stroke-width:0.14px">100</text>
<line x1="94.2" y1="322.90" x2="97.2" y2="322.90" stroke="#1c1c1c" stroke-width="1"/>
<text x="100.10" y="325.80" font-size="6.9" text-anchor="start" fill="#1e1e1e" textLength="3.45" lengthAdjust="spacingAndGlyphs"  style="stroke-width:0.1px">0</text>
<line x1="94.2" y1="301.27" x2="97.2" y2="301.27" stroke="#1c1c1c" stroke-width="1"/>
<text x="100.10" y="304.17" font-size="6.9" text-anchor="start" fill="#1e1e1e" textLength="13.8" lengthAdjust="spacingAndGlyphs"  style="stroke-width:0.1px">2000</text>
<line x1="94.2" y1="279.63" x2="97.2" y2="279.63" stroke="#1c1c1c" stroke-width="1"/>
<text x="100.10" y="282.53" font-size="6.9" text-anchor="start" fill="#1e1e1e" textLength="13.8" lengthAdjust="spacingAndGlyphs"  style="stroke-width:0.1px">4000</text>
<line x1="94.2" y1="258.00" x2="97.2" y2="258.00" stroke="#1c1c1c" stroke-width="1"/>
<text x="100.10" y="260.90" font-size="6.9" text-anchor="start" fill="#1e1e1e" textLength="13.8" lengthAdjust="spacingAndGlyphs"  style="stroke-width:0.1px">6000</text>
<line x1="45.10" y1="322.9" x2="45.10" y2="325.9" stroke="#1c1c1c" stroke-width="1"/>
<line x1="59.10" y1="322.9" x2="59.10" y2="325.9" stroke="#1c1c1c" stroke-width="1"/>
<line x1="73.10" y1="322.9" x2="73.10" y2="325.9" stroke="#1c1c1c" stroke-width="1"/>
<line x1="87.00" y1="322.9" x2="87.00" y2="325.9" stroke="#1c1c1c" stroke-width="1"/>
<text x="45.30" y="335.10" font-size="6.9" text-anchor="middle" fill="#1e1e1e" textLength="4.1" lengthAdjust="spacingAndGlyphs"  style="stroke-width:0.1px">D</text>
<text x="57.60" y="335.10" font-size="6.9" text-anchor="middle" fill="#1e1e1e" textLength="13.2" lengthAdjust="spacingAndGlyphs"  style="stroke-width:0.1px">CMR</text>
<text x="74.60" y="335.10" font-size="6.9" text-anchor="middle" fill="#1e1e1e" textLength="13.2" lengthAdjust="spacingAndGlyphs"  style="stroke-width:0.1px">CMR</text>
<text x="87.40" y="335.10" font-size="6.9" text-anchor="middle" fill="#1e1e1e" textLength="4.0" lengthAdjust="spacingAndGlyphs"  style="stroke-width:0.1px">R</text>
<text x="0" y="0" font-size="8.6" text-anchor="middle" fill="#1e1e1e" textLength="14.4" lengthAdjust="spacingAndGlyphs" transform="translate(14.80,290.00) rotate(-90)">VAF</text>
<text x="0" y="0" font-size="8.6" fill="#1e1e1e" textLength="19" lengthAdjust="spacingAndGlyphs" transform="translate(121.20,262.20) rotate(90)">Ratio</text>
<text x="0" y="0" font-size="8.6" font-style="italic" fill="#1e1e1e" textLength="44" lengthAdjust="spacingAndGlyphs" style="stroke-width:0.05px" transform="translate(121.20,273.40) rotate(90)">NPM1/ABL1</text>
<line x1="135.60" y1="245.80" x2="140.00" y2="245.80" stroke="#22447f" stroke-width="1.2"/>
<circle cx="137.80" cy="245.80" r="0.9" fill="#000"/>
<text x="142.90" y="247.30" font-size="5.7" text-anchor="start" fill="#2c2c2c" textLength="19.94" lengthAdjust="spacingAndGlyphs"  style="stroke:#555;stroke-width:0.12px">DNMT3A</text>
<line x1="135.60" y1="253.55" x2="140.00" y2="253.55" stroke="#22447f" stroke-width="1.2"/>
<circle cx="137.80" cy="253.55" r="0.9" fill="#000"/>
<text x="142.90" y="255.05" font-size="5.7" text-anchor="start" fill="#2c2c2c" textLength="11.05" lengthAdjust="spacingAndGlyphs"  style="stroke:#555;stroke-width:0.12px">IDH1</text>
<line x1="135.60" y1="261.30" x2="140.00" y2="261.30" stroke="#66ab45" stroke-width="1.2"/>
<circle cx="137.80" cy="261.30" r="0.9" fill="#000"/>
<text x="142.90" y="262.80" font-size="5.7" text-anchor="start" fill="#2c2c2c" textLength="11.59" lengthAdjust="spacingAndGlyphs"  style="stroke:#555;stroke-width:0.12px">TP53</text>
<line x1="135.60" y1="269.05" x2="140.00" y2="269.05" stroke="#66ab45" stroke-width="1.2"/>
<circle cx="137.80" cy="269.05" r="0.9" fill="#000"/>
<text x="142.90" y="270.55" font-size="5.7" text-anchor="start" fill="#2c2c2c" textLength="11.59" lengthAdjust="spacingAndGlyphs"  style="stroke:#555;stroke-width:0.12px">TP53</text>
<line x1="135.60" y1="276.80" x2="140.00" y2="276.80" stroke="#62a6e6" stroke-width="1.2"/>
<text x="142.90" y="278.30" font-size="5.7" text-anchor="start" fill="#2c2c2c" textLength="13.47" lengthAdjust="spacingAndGlyphs"  style="stroke:#555;stroke-width:0.12px">NPM1</text>
<polyline points="45.10,269.88 59.10,322.90 73.10,322.90 87.00,322.90" fill="none" stroke="#62a6e6" stroke-width="1.1" stroke-linejoin="round"/>
<polyline points="45.10,322.90 59.10,322.90" fill="none" stroke="#66ab45" stroke-width="1.4" stroke-linejoin="round"/>
<polyline points="59.10,322.90 73.10,295.32 87.00,294.80" fill="none" stroke="#66ab45" stroke-width="1.2" stroke-linejoin="round"/>
<polyline points="45.10,294.80 59.10,313.23 73.10,292.07 87.00,294.41" fill="none" stroke="#22447f" stroke-width="1.2" stroke-linejoin="round"/>
<polyline points="45.10,294.80 59.10,316.22 73.10,295.71 87.00,295.32" fill="none" stroke="#22447f" stroke-width="1.2" stroke-linejoin="round"/>
<circle cx="45.10" cy="294.80" r="0.95" fill="#000"/>
<circle cx="59.10" cy="313.23" r="0.95" fill="#000"/>
<circle cx="59.10" cy="316.22" r="0.95" fill="#000"/>
<circle cx="73.10" cy="292.07" r="0.95" fill="#000"/>
<circle cx="73.10" cy="295.71" r="0.95" fill="#000"/>
<circle cx="87.00" cy="294.41" r="0.95" fill="#000"/>
<circle cx="87.00" cy="295.32" r="0.95" fill="#000"/>
<circle cx="45.10" cy="322.90" r="0.95" fill="#000"/>
<circle cx="59.10" cy="322.90" r="0.95" fill="#000"/>
<text x="239.70" y="250.90" font-size="8.6" text-anchor="middle" fill="#1e1e1e" textLength="27.6" lengthAdjust="spacingAndGlyphs"  style="">#46029</text>
<line x1="211.9" y1="255.3" x2="211.9" y2="323.59999999999997" stroke="#1c1c1c" stroke-width="1.4"/>
<line x1="267.9" y1="255.3" x2="267.9" y2="323.59999999999997" stroke="#1c1c1c" stroke-width="1.4"/>
<line x1="211.20000000000002" y1="322.9" x2="268.59999999999997" y2="322.9" stroke="#1c1c1c" stroke-width="1.4"/>
<line x1="208.9" y1="322.90" x2="211.9" y2="322.90" stroke="#1c1c1c" stroke-width="1"/>
<text x="206.10" y="325.80" font-size="6.9" text-anchor="end" fill="#1e1e1e" textLength="3.27" lengthAdjust="spacingAndGlyphs"  style="stroke-width:0.14px">0</text>
<line x1="208.9" y1="309.92" x2="211.9" y2="309.92" stroke="#1c1c1c" stroke-width="1"/>
<text x="206.10" y="312.82" font-size="6.9" text-anchor="end" fill="#1e1e1e" textLength="6.54" lengthAdjust="spacingAndGlyphs"  style="stroke-width:0.14px">20</text>
<line x1="208.9" y1="296.94" x2="211.9" y2="296.94" stroke="#1c1c1c" stroke-width="1"/>
<text x="206.10" y="299.84" font-size="6.9" text-anchor="end" fill="#1e1e1e" textLength="6.54" lengthAdjust="spacingAndGlyphs"  style="stroke-width:0.14px">40</text>
<line x1="208.9" y1="283.96" x2="211.9" y2="283.96" stroke="#1c1c1c" stroke-width="1"/>
<text x="206.10" y="286.86" font-size="6.9" text-anchor="end" fill="#1e1e1e" textLength="6.54" lengthAdjust="spacingAndGlyphs"  style="stroke-width:0.14px">60</text>
<line x1="208.9" y1="270.98" x2="211.9" y2="270.98" stroke="#1c1c1c" stroke-width="1"/>
<text x="206.10" y="273.88" font-size="6.9" text-anchor="end" fill="#1e1e1e" textLength="6.54" lengthAdjust="spacingAndGlyphs"  style="stroke-width:0.14px">80</text>
<line x1="208.9" y1="258.00" x2="211.9" y2="258.00" stroke="#1c1c1c" stroke-width="1"/>
<text x="206.10" y="260.90" font-size="6.9" text-anchor="end" fill="#1e1e1e" textLength="9.81" lengthAdjust="spacingAndGlyphs"  style="stroke-width:0.14px">100</text>
<line x1="267.9" y1="322.90" x2="270.9" y2="322.90" stroke="#1c1c1c" stroke-width="1"/>
<text x="273.80" y="325.80" font-size="6.9" text-anchor="start" fill="#1e1e1e" textLength="3.45" lengthAdjust="spacingAndGlyphs"  style="stroke-width:0.1px">0</text>
<line x1="267.9" y1="301.27" x2="270.9" y2="301.27" stroke="#1c1c1c" stroke-width="1"/>
<text x="273.80" y="304.17" font-size="6.9" text-anchor="start" fill="#1e1e1e" textLength="6.9" lengthAdjust="spacingAndGlyphs"  style="stroke-width:0.1px">20</text>
<line x1="267.9" y1="279.63" x2="270.9" y2="279.63" stroke="#1c1c1c" stroke-width="1"/>
<text x="273.80" y="282.53" font-size="6.9" text-anchor="start" fill="#1e1e1e" textLength="6.9" lengthAdjust="spacingAndGlyphs"  style="stroke-width:0.1px">40</text>
<line x1="267.9" y1="258.00" x2="270.9" y2="258.00" stroke="#1c1c1c" stroke-width="1"/>
<text x="273.80" y="260.90" font-size="6.9" text-anchor="start" fill="#1e1e1e" textLength="6.9" lengthAdjust="spacingAndGlyphs"  style="stroke-width:0.1px">60</text>
<line x1="218.20" y1="322.9" x2="218.20" y2="325.9" stroke="#1c1c1c" stroke-width="1"/>
<line x1="232.40" y1="322.9" x2="232.40" y2="325.9" stroke="#1c1c1c" stroke-width="1"/>
<line x1="246.60" y1="322.9" x2="246.60" y2="325.9" stroke="#1c1c1c" stroke-width="1"/>
<line x1="260.60" y1="322.9" x2="260.60" y2="325.9" stroke="#1c1c1c" stroke-width="1"/>
<text x="218.40" y="335.10" font-size="6.9" text-anchor="middle" fill="#1e1e1e" textLength="4.1" lengthAdjust="spacingAndGlyphs"  style="stroke-width:0.1px">D</text>
<text x="230.90" y="335.10" font-size="6.9" text-anchor="middle" fill="#1e1e1e" textLength="13.2" lengthAdjust="spacingAndGlyphs"  style="stroke-width:0.1px">CMR</text>
<text x="248.10" y="335.10" font-size="6.9" text-anchor="middle" fill="#1e1e1e" textLength="13.2" lengthAdjust="spacingAndGlyphs"  style="stroke-width:0.1px">CMR</text>
<text x="261.00" y="335.10" font-size="6.9" text-anchor="middle" fill="#1e1e1e" textLength="4.0" lengthAdjust="spacingAndGlyphs"  style="stroke-width:0.1px">R</text>
<text x="0" y="0" font-size="8.6" text-anchor="middle" fill="#1e1e1e" textLength="14.4" lengthAdjust="spacingAndGlyphs" transform="translate(188.50,290.00) rotate(-90)">VAF</text>
<text x="0" y="0" font-size="8.6" fill="#1e1e1e" textLength="19" lengthAdjust="spacingAndGlyphs" transform="translate(287.30,262.20) rotate(90)">Ratio</text>
<text x="0" y="0" font-size="8.6" font-style="italic" fill="#1e1e1e" textLength="44" lengthAdjust="spacingAndGlyphs" style="stroke-width:0.05px" transform="translate(287.30,273.40) rotate(90)">NPM1/ABL1</text>
<line x1="301.00" y1="245.20" x2="305.40" y2="245.20" stroke="#22447f" stroke-width="1.2"/>
<circle cx="303.20" cy="245.20" r="0.9" fill="#000"/>
<text x="308.30" y="246.70" font-size="5.7" text-anchor="start" fill="#2c2c2c" textLength="11.05" lengthAdjust="spacingAndGlyphs"  style="stroke:#555;stroke-width:0.12px">IDH2</text>
<line x1="301.00" y1="253.00" x2="305.40" y2="253.00" stroke="#22447f" stroke-width="1.2"/>
<circle cx="303.20" cy="253.00" r="0.9" fill="#000"/>
<text x="308.30" y="254.50" font-size="5.7" text-anchor="start" fill="#2c2c2c" textLength="15.63" lengthAdjust="spacingAndGlyphs"  style="stroke:#555;stroke-width:0.12px">SRSF2</text>
<line x1="301.00" y1="260.80" x2="305.40" y2="260.80" stroke="#22447f" stroke-width="1.2"/>
<circle cx="303.20" cy="260.80" r="0.9" fill="#000"/>
<text x="308.30" y="262.30" font-size="5.7" text-anchor="start" fill="#2c2c2c" textLength="11.86" lengthAdjust="spacingAndGlyphs"  style="stroke:#555;stroke-width:0.12px">TET2</text>
<line x1="301.00" y1="268.60" x2="305.40" y2="268.60" stroke="#66ab45" stroke-width="1.2"/>
<circle cx="303.20" cy="268.60" r="0.9" fill="#000"/>
<text x="308.30" y="270.10" font-size="5.7" text-anchor="start" fill="#2c2c2c" textLength="16.44" lengthAdjust="spacingAndGlyphs"  style="stroke:#555;stroke-width:0.12px">RUNX1</text>
<line x1="301.00" y1="276.40" x2="305.40" y2="276.40" stroke="#62a6e6" stroke-width="1.2"/>
<text x="308.30" y="277.90" font-size="5.7" text-anchor="start" fill="#2c2c2c" textLength="13.47" lengthAdjust="spacingAndGlyphs"  style="stroke:#555;stroke-width:0.12px">NPM1</text>
<polyline points="218.20,299.28 232.40,322.90" fill="none" stroke="#62a6e6" stroke-width="1.1" stroke-linejoin="round"/>
<polyline points="246.60,322.90 260.60,322.90" fill="none" stroke="#62a6e6" stroke-width="1.5" stroke-linejoin="round"/>
<polyline points="218.20,322.90 232.40,322.90 246.60,322.90 260.60,263.00" fill="none" stroke="#66ab45" stroke-width="1.3" stroke-linejoin="round"/>
<polyline points="218.20,290.77 232.40,311.41 246.60,310.37 260.60,266.63" fill="none" stroke="#22447f" stroke-width="1.1" stroke-linejoin="round"/>
<polyline points="218.20,317.77 232.40,304.99 246.60,299.28 260.60,287.20" fill="none" stroke="#22447f" stroke-width="1.1" stroke-linejoin="round"/>
<polyline points="218.20,321.80 232.40,311.41 246.60,304.01 260.60,292.20" fill="none" stroke="#22447f" stroke-width="1.1" stroke-linejoin="round"/>
<circle cx="218.20" cy="317.77" r="0.95" fill="#000"/>
<circle cx="218.20" cy="321.80" r="0.95" fill="#000"/>
<circle cx="232.40" cy="311.41" r="0.95" fill="#000"/>
<circle cx="232.40" cy="304.99" r="0.95" fill="#000"/>
<circle cx="246.60" cy="310.37" r="0.95" fill="#000"/>
<circle cx="246.60" cy="299.28" r="0.95" fill="#000"/>
<circle cx="246.60" cy="304.01" r="0.95" fill="#000"/>
<circle cx="260.60" cy="266.63" r="0.95" fill="#000"/>
<circle cx="260.60" cy="263.00" r="0.95" fill="#000"/>
<circle cx="260.60" cy="287.20" r="0.95" fill="#000"/>
<circle cx="260.60" cy="292.20" r="0.95" fill="#000"/>
<circle cx="232.40" cy="322.90" r="0.95" fill="#000"/>
<circle cx="246.60" cy="322.90" r="0.95" fill="#000"/>
<circle cx="218.20" cy="290.77" r="1.1" fill="#c0102a"/>
<circle cx="301.8" cy="299" r="0.9" fill="#5a0a14"/>
<text x="307.30" y="294.20" font-size="5.6" text-anchor="start" fill="#2c2c2c" textLength="11.0" lengthAdjust="spacingAndGlyphs"  style="stroke:#555;stroke-width:0.12px">IDH2</text>
<text x="307.30" y="300.80" font-size="5.6" text-anchor="start" fill="#2c2c2c" textLength="21.5" lengthAdjust="spacingAndGlyphs"  style="stroke:#555;stroke-width:0.12px">mutation</text>
<text x="307.30" y="306.80" font-size="5.6" text-anchor="start" fill="#2c2c2c" textLength="18.0" lengthAdjust="spacingAndGlyphs"  style="stroke:#555;stroke-width:0.12px">present</text>
<text x="412.30" y="250.90" font-size="8.6" text-anchor="middle" fill="#1e1e1e" textLength="27.6" lengthAdjust="spacingAndGlyphs"  style="">#15016</text>
<line x1="384.5" y1="255.3" x2="384.5" y2="323.59999999999997" stroke="#1c1c1c" stroke-width="1.4"/>
<line x1="440.5" y1="255.3" x2="440.5" y2="323.59999999999997" stroke="#1c1c1c" stroke-width="1.4"/>
<line x1="383.8" y1="322.9" x2="441.2" y2="322.9" stroke="#1c1c1c" stroke-width="1.4"/>
<line x1="381.5" y1="322.90" x2="384.5" y2="322.90" stroke="#1c1c1c" stroke-width="1"/>
<text x="378.70" y="325.80" font-size="6.9" text-anchor="end" fill="#1e1e1e" textLength="3.27" lengthAdjust="spacingAndGlyphs"  style="stroke-width:0.14px">0</text>
<line x1="381.5" y1="309.92" x2="384.5" y2="309.92" stroke="#1c1c1c" stroke-width="1"/>
<text x="378.70" y="312.82" font-size="6.9" text-anchor="end" fill="#1e1e1e" textLength="6.54" lengthAdjust="spacingAndGlyphs"  style="stroke-width:0.14px">20</text>
<line x1="381.5" y1="296.94" x2="384.5" y2="296.94" stroke="#1c1c1c" stroke-width="1"/>
<text x="378.70" y="299.84" font-size="6.9" text-anchor="end" fill="#1e1e1e" textLength="6.54" lengthAdjust="spacingAndGlyphs"  style="stroke-width:0.14px">40</text>
<line x1="381.5" y1="283.96" x2="384.5" y2="283.96" stroke="#1c1c1c" stroke-width="1"/>
<text x="378.70" y="286.86" font-size="6.9" text-anchor="end" fill="#1e1e1e" textLength="6.54" lengthAdjust="spacingAndGlyphs"  style="stroke-width:0.14px">60</text>
<line x1="381.5" y1="270.98" x2="384.5" y2="270.98" stroke="#1c1c1c" stroke-width="1"/>
<text x="378.70" y="273.88" font-size="6.9" text-anchor="end" fill="#1e1e1e" textLength="6.54" lengthAdjust="spacingAndGlyphs"  style="stroke-width:0.14px">80</text>
<line x1="381.5" y1="258.00" x2="384.5" y2="258.00" stroke="#1c1c1c" stroke-width="1"/>
<text x="378.70" y="260.90" font-size="6.9" text-anchor="end" fill="#1e1e1e" textLength="9.81" lengthAdjust="spacingAndGlyphs"  style="stroke-width:0.14px">100</text>
<line x1="440.5" y1="322.90" x2="443.5" y2="322.90" stroke="#1c1c1c" stroke-width="1"/>
<text x="446.40" y="325.80" font-size="6.9" text-anchor="start" fill="#1e1e1e" textLength="3.45" lengthAdjust="spacingAndGlyphs"  style="stroke-width:0.1px">0</text>
<line x1="440.5" y1="306.67" x2="443.5" y2="306.67" stroke="#1c1c1c" stroke-width="1"/>
<text x="446.40" y="309.57" font-size="6.9" text-anchor="start" fill="#1e1e1e" textLength="13.8" lengthAdjust="spacingAndGlyphs"  style="stroke-width:0.1px">2000</text>
<line x1="440.5" y1="290.45" x2="443.5" y2="290.45" stroke="#1c1c1c" stroke-width="1"/>
<text x="446.40" y="293.35" font-size="6.9" text-anchor="start" fill="#1e1e1e" textLength="13.8" lengthAdjust="spacingAndGlyphs"  style="stroke-width:0.1px">4000</text>
<line x1="440.5" y1="274.22" x2="443.5" y2="274.22" stroke="#1c1c1c" stroke-width="1"/>
<text x="446.40" y="277.12" font-size="6.9" text-anchor="start" fill="#1e1e1e" textLength="13.8" lengthAdjust="spacingAndGlyphs"  style="stroke-width:0.1px">6000</text>
<line x1="440.5" y1="258.00" x2="443.5" y2="258.00" stroke="#1c1c1c" stroke-width="1"/>
<text x="446.40" y="260.90" font-size="6.9" text-anchor="start" fill="#1e1e1e" textLength="13.8" lengthAdjust="spacingAndGlyphs"  style="stroke-width:0.1px">8000</text>
<line x1="391.40" y1="322.9" x2="391.40" y2="325.9" stroke="#1c1c1c" stroke-width="1"/>
<line x1="405.40" y1="322.9" x2="405.40" y2="325.9" stroke="#1c1c1c" stroke-width="1"/>
<line x1="419.40" y1="322.9" x2="419.40" y2="325.9" stroke="#1c1c1c" stroke-width="1"/>
<line x1="433.30" y1="322.9" x2="433.30" y2="325.9" stroke="#1c1c1c" stroke-width="1"/>
<text x="391.60" y="335.10" font-size="6.9" text-anchor="middle" fill="#1e1e1e" textLength="4.1" lengthAdjust="spacingAndGlyphs"  style="stroke-width:0.1px">D</text>
<text x="403.90" y="335.10" font-size="6.9" text-anchor="middle" fill="#1e1e1e" textLength="13.2" lengthAdjust="spacingAndGlyphs"  style="stroke-width:0.1px">CMR</text>
<text x="420.90" y="335.10" font-size="6.9" text-anchor="middle" fill="#1e1e1e" textLength="13.2" lengthAdjust="spacingAndGlyphs"  style="stroke-width:0.1px">CMR</text>
<text x="433.70" y="335.10" font-size="6.9" text-anchor="middle" fill="#1e1e1e" textLength="4.0" lengthAdjust="spacingAndGlyphs"  style="stroke-width:0.1px">R</text>
<text x="0" y="0" font-size="8.6" text-anchor="middle" fill="#1e1e1e" textLength="14.4" lengthAdjust="spacingAndGlyphs" transform="translate(361.10,290.00) rotate(-90)">VAF</text>
<text x="0" y="0" font-size="8.6" fill="#1e1e1e" textLength="19" lengthAdjust="spacingAndGlyphs" transform="translate(467.50,262.20) rotate(90)">Ratio</text>
<text x="0" y="0" font-size="8.6" font-style="italic" fill="#1e1e1e" textLength="44" lengthAdjust="spacingAndGlyphs" style="stroke-width:0.05px" transform="translate(467.50,273.40) rotate(90)">NPM1/ABL1</text>
<line x1="483.60" y1="245.20" x2="488.00" y2="245.20" stroke="#7a0a20" stroke-width="1.2"/>
<circle cx="485.80" cy="245.20" r="0.9" fill="#000"/>
<text x="490.90" y="246.70" font-size="5.7" text-anchor="start" fill="#2c2c2c" textLength="19.94" lengthAdjust="spacingAndGlyphs"  style="stroke:#555;stroke-width:0.12px">DNMT3A</text>
<line x1="483.60" y1="253.10" x2="488.00" y2="253.10" stroke="#b41842" stroke-width="1.2"/>
<circle cx="485.80" cy="253.10" r="0.9" fill="#000"/>
<text x="490.90" y="254.60" font-size="5.7" text-anchor="start" fill="#2c2c2c" textLength="17.97" lengthAdjust="spacingAndGlyphs"  style="stroke:#555;stroke-width:0.12px">PTPN11</text>
<line x1="483.60" y1="261.00" x2="488.00" y2="261.00" stroke="#62a6e6" stroke-width="1.2"/>
<circle cx="485.80" cy="261.00" r="0.9" fill="#3a6ea5"/>
<text x="490.90" y="262.50" font-size="5.7" text-anchor="start" fill="#2c2c2c" textLength="13.47" lengthAdjust="spacingAndGlyphs"  style="stroke:#555;stroke-width:0.12px">NPM1</text>
<polyline points="391.40,269.68 405.40,322.90" fill="none" stroke="#62a6e6" stroke-width="1.1" stroke-linejoin="round"/>
<polyline points="391.40,292.40 405.40,322.90 419.40,322.90 433.30,322.90" fill="none" stroke="#b41842" stroke-width="1.4" stroke-linejoin="round"/>
<polyline points="391.40,293.69 405.40,322.90" fill="none" stroke="#7a0a20" stroke-width="1.1" stroke-linejoin="round"/>
<circle cx="391.40" cy="292.40" r="0.95" fill="#000"/>
<circle cx="391.40" cy="293.69" r="0.95" fill="#000"/>
<circle cx="405.40" cy="322.90" r="0.95" fill="#000"/>
<circle cx="419.40" cy="322.90" r="0.95" fill="#000"/>
<circle cx="433.30" cy="322.90" r="0.95" fill="#000"/>
<circle cx="391.40" cy="269.68" r="0.9" fill="#3a6ea5"/>
<line x1="38.3" y1="371.6" x2="38.3" y2="456.3" stroke="#1c1c1c" stroke-width="1.4"/>
<line x1="37.599999999999994" y1="455.6" x2="160.5" y2="455.6" stroke="#1c1c1c" stroke-width="1.4"/>
<line x1="35.3" y1="455.60" x2="38.3" y2="455.60" stroke="#1c1c1c" stroke-width="1"/>
<text x="32.30" y="457.80" font-size="6.3" text-anchor="end" fill="#1e1e1e" textLength="3.3" lengthAdjust="spacingAndGlyphs"  style="">0</text>
<line x1="35.3" y1="435.24" x2="38.3" y2="435.24" stroke="#1c1c1c" stroke-width="1"/>
<text x="32.30" y="437.44" font-size="6.3" text-anchor="end" fill="#1e1e1e" textLength="6.6" lengthAdjust="spacingAndGlyphs"  style="">20</text>
<line x1="35.3" y1="414.88" x2="38.3" y2="414.88" stroke="#1c1c1c" stroke-width="1"/>
<text x="32.30" y="417.08" font-size="6.3" text-anchor="end" fill="#1e1e1e" textLength="6.6" lengthAdjust="spacingAndGlyphs"  style="">40</text>
<line x1="35.3" y1="394.52" x2="38.3" y2="394.52" stroke="#1c1c1c" stroke-width="1"/>
<text x="32.30" y="396.72" font-size="6.3" text-anchor="end" fill="#1e1e1e" textLength="6.6" lengthAdjust="spacingAndGlyphs"  style="">60</text>
<line x1="35.3" y1="374.16" x2="38.3" y2="374.16" stroke="#1c1c1c" stroke-width="1"/>
<text x="32.30" y="376.36" font-size="6.3" text-anchor="end" fill="#1e1e1e" textLength="6.6" lengthAdjust="spacingAndGlyphs"  style="">80</text>
<rect x="44.80" y="387.80" width="12.4" height="67.80" fill="#a2002a"/>
<line x1="51.00" y1="455.6" x2="51.00" y2="458.6" stroke="#1c1c1c" stroke-width="1"/>
<text x="0" y="0" font-size="6.2" text-anchor="end" fill="#2a2a2a" style="stroke-width:0.12px" transform="translate(53.20,465.5) rotate(-45)">DNMT3A</text>
<rect x="64.00" y="398.59" width="12.4" height="57.01" fill="#a2002a"/>
<line x1="70.20" y1="455.6" x2="70.20" y2="458.6" stroke="#1c1c1c" stroke-width="1"/>
<text x="0" y="0" font-size="6.2" text-anchor="end" fill="#2a2a2a" style="stroke-width:0.12px" transform="translate(72.40,465.5) rotate(-45)">TET2</text>
<rect x="83.20" y="422.62" width="12.4" height="32.98" fill="#a2002a"/>
<line x1="89.40" y1="455.6" x2="89.40" y2="458.6" stroke="#1c1c1c" stroke-width="1"/>
<text x="0" y="0" font-size="6.2" text-anchor="end" fill="#2a2a2a" style="stroke-width:0.12px" transform="translate(91.60,465.5) rotate(-45)">IDH1</text>
<rect x="102.40" y="422.62" width="12.4" height="32.98" fill="#a2002a"/>
<line x1="108.60" y1="455.6" x2="108.60" y2="458.6" stroke="#1c1c1c" stroke-width="1"/>
<text x="0" y="0" font-size="6.2" text-anchor="end" fill="#2a2a2a" style="stroke-width:0.12px" transform="translate(110.80,465.5) rotate(-45)">SRSF2</text>
<rect x="121.60" y="433.10" width="12.4" height="22.50" fill="#a2002a"/>
<line x1="127.80" y1="455.6" x2="127.80" y2="458.6" stroke="#1c1c1c" stroke-width="1"/>
<text x="0" y="0" font-size="6.2" text-anchor="end" fill="#2a2a2a" style="stroke-width:0.12px" transform="translate(130.00,465.5) rotate(-45)">IDH2</text>
<rect x="140.80" y="444.50" width="12.4" height="11.10" fill="#a2002a"/>
<line x1="147.00" y1="455.6" x2="147.00" y2="458.6" stroke="#1c1c1c" stroke-width="1"/>
<text x="0" y="0" font-size="6.2" text-anchor="end" fill="#2a2a2a" style="stroke-width:0.12px" transform="translate(149.20,465.5) rotate(-45)">STAG2</text>
<text x="0" y="0" font-size="8.6" text-anchor="middle" fill="#1e1e1e" textLength="72.5" lengthAdjust="spacingAndGlyphs" transform="translate(19.6,413.3) rotate(-90)">Percent persistence</text>
<line x1="211.2" y1="377.1" x2="211.2" y2="456.3" stroke="#1c1c1c" stroke-width="1.4"/>
<line x1="210.5" y1="455.6" x2="327.7" y2="455.6" stroke="#1c1c1c" stroke-width="1.4"/>
<line x1="208.2" y1="455.60" x2="211.2" y2="455.60" stroke="#1c1c1c" stroke-width="1"/>
<text x="206.00" y="458.60" font-size="6.3" text-anchor="end" fill="#1e1e1e" textLength="3.35" lengthAdjust="spacingAndGlyphs"  style="stroke-width:0.15px">0</text>
<line x1="208.2" y1="440.30" x2="211.2" y2="440.30" stroke="#1c1c1c" stroke-width="1"/>
<text x="206.00" y="443.30" font-size="6.3" text-anchor="end" fill="#1e1e1e" textLength="6.7" lengthAdjust="spacingAndGlyphs"  style="stroke-width:0.15px">20</text>
<line x1="208.2" y1="425.00" x2="211.2" y2="425.00" stroke="#1c1c1c" stroke-width="1"/>
<text x="206.00" y="428.00" font-size="6.3" text-anchor="end" fill="#1e1e1e" textLength="6.7" lengthAdjust="spacingAndGlyphs"  style="stroke-width:0.15px">40</text>
<line x1="208.2" y1="409.70" x2="211.2" y2="409.70" stroke="#1c1c1c" stroke-width="1"/>
<text x="206.00" y="412.70" font-size="6.3" text-anchor="end" fill="#1e1e1e" textLength="6.7" lengthAdjust="spacingAndGlyphs"  style="stroke-width:0.15px">60</text>
<line x1="208.2" y1="394.40" x2="211.2" y2="394.40" stroke="#1c1c1c" stroke-width="1"/>
<text x="206.00" y="397.40" font-size="6.3" text-anchor="end" fill="#1e1e1e" textLength="6.7" lengthAdjust="spacingAndGlyphs"  style="stroke-width:0.15px">80</text>
<line x1="208.2" y1="379.10" x2="211.2" y2="379.10" stroke="#1c1c1c" stroke-width="1"/>
<text x="206.00" y="382.10" font-size="6.3" text-anchor="end" fill="#1e1e1e" textLength="10.05" lengthAdjust="spacingAndGlyphs"  style="stroke-width:0.15px">100</text>
<line x1="229.3" y1="455.6" x2="229.3" y2="458.6" stroke="#1c1c1c" stroke-width="1"/>
<text x="229.30" y="468.00" font-size="6.3" text-anchor="middle" fill="#1e1e1e" textLength="4.0" lengthAdjust="spacingAndGlyphs"  style="">D</text>
<line x1="256.1" y1="455.6" x2="256.1" y2="458.6" stroke="#1c1c1c" stroke-width="1"/>
<text x="256.10" y="468.00" font-size="6.3" text-anchor="middle" fill="#1e1e1e" textLength="7.6" lengthAdjust="spacingAndGlyphs"  style="">CR</text>
<line x1="282.0" y1="455.6" x2="282.0" y2="458.6" stroke="#1c1c1c" stroke-width="1"/>
<text x="282.00" y="468.00" font-size="6.3" text-anchor="middle" fill="#1e1e1e" textLength="7.6" lengthAdjust="spacingAndGlyphs"  style="">CR</text>
<line x1="308.5" y1="455.6" x2="308.5" y2="458.6" stroke="#1c1c1c" stroke-width="1"/>
<text x="308.50" y="468.00" font-size="6.3" text-anchor="middle" fill="#1e1e1e" textLength="19.7" lengthAdjust="spacingAndGlyphs"  style="">relapse</text>
<text x="0" y="0" font-size="8.3" text-anchor="middle" fill="#1e1e1e" textLength="52.6" lengthAdjust="spacingAndGlyphs" transform="translate(189.6,416.8) rotate(-90)">VAF in percent</text>
<polyline points="229.8,410.6 229.8,392.4 254.4,392.4 254.4,410.6" fill="none" stroke="#1a1a1a" stroke-width="1.1"/>
<polyline points="256.3,411.7 256.3,379.1 281.3,379.1 281.3,388.2" fill="none" stroke="#1a1a1a" stroke-width="1.1"/>
<polyline points="228.5,410.6 228.5,362.5 309,362.5 309,385.8" fill="none" stroke="#1a1a1a" stroke-width="1.1"/>
<text x="242.10" y="389.90" font-size="5.6" text-anchor="middle" fill="#3a3a3a" textLength="15.8" lengthAdjust="spacingAndGlyphs"  style="stroke:#777;stroke-width:0.1px">p=0.03</text>
<text x="267.80" y="377.00" font-size="5.6" text-anchor="middle" fill="#3a3a3a" textLength="17.8" lengthAdjust="spacingAndGlyphs"  style="stroke:#777;stroke-width:0.1px">p&lt;0.001</text>
<text x="269.50" y="358.10" font-size="5.6" text-anchor="middle" fill="#3a3a3a" textLength="18.6" lengthAdjust="spacingAndGlyphs"  style="stroke:#777;stroke-width:0.1px">p=0.002</text>
<line x1="220.2" y1="436.2" x2="238" y2="436.2" stroke="#1c1c1c" stroke-width="1.1"/>
<line x1="246.2" y1="444.7" x2="264" y2="444.7" stroke="#1c1c1c" stroke-width="1.1"/>
<line x1="273.2" y1="428.3" x2="290.3" y2="428.3" stroke="#1c1c1c" stroke-width="1.1"/>
<line x1="299.8" y1="422.1" x2="317.2" y2="422.1" stroke="#1c1c1c" stroke-width="1.1"/>
<circle cx="229.1" cy="417.8" r="1.6" fill="#a6002c"/>
<circle cx="224.2" cy="422.1" r="1.6" fill="#a6002c"/>
<circle cx="226.5" cy="422.8" r="1.6" fill="#a6002c"/>
<circle cx="227.7" cy="424.6" r="1.6" fill="#a6002c"/>
<circle cx="230" cy="425.1" r="1.6" fill="#a6002c"/>
<circle cx="231.4" cy="423" r="1.6" fill="#a6002c"/>
<circle cx="233.6" cy="422.1" r="1.6" fill="#a6002c"/>
<circle cx="229.1" cy="431.5" r="1.6" fill="#a6002c"/>
<circle cx="222.4" cy="434.3" r="1.6" fill="#a6002c"/>
<circle cx="235.7" cy="432.6" r="1.6" fill="#a6002c"/>
<circle cx="225.4" cy="437.1" r="1.6" fill="#a6002c"/>
<circle cx="228.9" cy="437.3" r="1.6" fill="#a6002c"/>
<circle cx="232.7" cy="436.2" r="1.6" fill="#a6002c"/>
<circle cx="224.9" cy="453" r="1.6" fill="#a6002c"/>
<circle cx="227" cy="451.8" r="1.6" fill="#a6002c"/>
<circle cx="228.2" cy="454.1" r="1.6" fill="#a6002c"/>
<circle cx="229.9" cy="453.2" r="1.6" fill="#a6002c"/>
<circle cx="231.4" cy="450.9" r="1.6" fill="#a6002c"/>
<circle cx="233.8" cy="452.1" r="1.6" fill="#a6002c"/>
<circle cx="230.5" cy="454.6" r="1.6" fill="#a6002c"/>
<rect x="253.95" y="424.45" width="3.1" height="3.1" fill="#a6002c"/>
<rect x="253.95" y="429.85" width="3.1" height="3.1" fill="#a6002c"/>
<rect x="251.65" y="432.75" width="3.1" height="3.1" fill="#a6002c"/>
<rect x="256.25" y="435.85" width="3.1" height="3.1" fill="#a6002c"/>
<rect x="249.05" y="438.85" width="3.1" height="3.1" fill="#a6002c"/>
<rect x="258.55" y="439.45" width="3.1" height="3.1" fill="#a6002c"/>
<rect x="253.95" y="441.45" width="3.1" height="3.1" fill="#a6002c"/>
<rect x="247.35" y="443.55" width="3.1" height="3.1" fill="#a6002c"/>
<rect x="249.55" y="445.05" width="3.1" height="3.1" fill="#a6002c"/>
<rect x="251.25" y="446.65" width="3.1" height="3.1" fill="#a6002c"/>
<rect x="253.55" y="447.35" width="3.1" height="3.1" fill="#a6002c"/>
<rect x="255.85" y="446.65" width="3.1" height="3.1" fill="#a6002c"/>
<rect x="258.05" y="445.35" width="3.1" height="3.1" fill="#a6002c"/>
<rect x="260.15" y="443.55" width="3.1" height="3.1" fill="#a6002c"/>
<rect x="247.05" y="450.45" width="3.1" height="3.1" fill="#a6002c"/>
<rect x="248.95" y="451.45" width="3.1" height="3.1" fill="#a6002c"/>
<rect x="251.25" y="452.45" width="3.1" height="3.1" fill="#a6002c"/>
<rect x="253.55" y="453.15" width="3.1" height="3.1" fill="#a6002c"/>
<rect x="255.85" y="453.15" width="3.1" height="3.1" fill="#a6002c"/>
<rect x="258.15" y="452.45" width="3.1" height="3.1" fill="#a6002c"/>
<rect x="260.65" y="450.85" width="3.1" height="3.1" fill="#a6002c"/>
<path d="M280.00,394.80 L281.80,391.70 L283.60,394.80Z" fill="#a6002c"/>
<path d="M273.30,420.70 L275.10,417.60 L276.90,420.70Z" fill="#a6002c"/>
<path d="M275.10,422.70 L276.90,419.60 L278.70,422.70Z" fill="#a6002c"/>
<path d="M277.30,423.40 L279.10,420.30 L280.90,423.40Z" fill="#a6002c"/>
<path d="M279.80,424.10 L281.60,421.00 L283.40,424.10Z" fill="#a6002c"/>
<path d="M282.20,422.80 L284.00,419.70 L285.80,422.80Z" fill="#a6002c"/>
<path d="M284.30,423.40 L286.10,420.30 L287.90,423.40Z" fill="#a6002c"/>
<path d="M287.00,422.20 L288.80,419.10 L290.60,422.20Z" fill="#a6002c"/>
<path d="M276.30,425.20 L278.10,422.10 L279.90,425.20Z" fill="#a6002c"/>
<path d="M278.80,426.10 L280.60,423.00 L282.40,426.10Z" fill="#a6002c"/>
<path d="M281.30,425.20 L283.10,422.10 L284.90,425.20Z" fill="#a6002c"/>
<path d="M283.70,426.10 L285.50,423.00 L287.30,426.10Z" fill="#a6002c"/>
<path d="M281.30,429.30 L283.10,426.20 L284.90,429.30Z" fill="#a6002c"/>
<path d="M280.00,434.50 L281.80,431.40 L283.60,434.50Z" fill="#a6002c"/>
<path d="M280.00,447.90 L281.80,444.80 L283.60,447.90Z" fill="#a6002c"/>
<path d="M275.40,453.80 L277.20,450.70 L279.00,453.80Z" fill="#a6002c"/>
<path d="M284.70,454.50 L286.50,451.40 L288.30,454.50Z" fill="#a6002c"/>
<path d="M280.00,457.20 L281.80,454.10 L283.60,457.20Z" fill="#a6002c"/>
<path d="M306.70,390.60 L308.50,393.70 L310.30,390.60Z" fill="#a6002c"/>
<path d="M301.90,410.40 L303.70,413.50 L305.50,410.40Z" fill="#a6002c"/>
<path d="M311.00,411.20 L312.80,414.30 L314.60,411.20Z" fill="#a6002c"/>
<path d="M306.70,413.60 L308.50,416.70 L310.30,413.60Z" fill="#a6002c"/>
<path d="M313.00,417.10 L314.80,420.20 L316.60,417.10Z" fill="#a6002c"/>
<path d="M299.50,419.70 L301.30,422.80 L303.10,419.70Z" fill="#a6002c"/>
<path d="M301.90,421.20 L303.70,424.30 L305.50,421.20Z" fill="#a6002c"/>
<path d="M304.30,420.30 L306.10,423.40 L307.90,420.30Z" fill="#a6002c"/>
<path d="M306.70,421.90 L308.50,425.00 L310.30,421.90Z" fill="#a6002c"/>
<path d="M309.10,420.80 L310.90,423.90 L312.70,420.80Z" fill="#a6002c"/>
<path d="M311.50,421.20 L313.30,424.30 L315.10,421.20Z" fill="#a6002c"/>
<path d="M305.10,426.30 L306.90,429.40 L308.70,426.30Z" fill="#a6002c"/>
<path d="M306.70,433.00 L308.50,436.10 L310.30,433.00Z" fill="#a6002c"/>
<path d="M306.70,445.00 L308.50,448.10 L310.30,445.00Z" fill="#a6002c"/>
<rect x="0" y="0" width="520" height="1.1" fill="#000"/>
<rect x="0" y="0" width="1.6" height="492" fill="#333"/>
<rect x="518.5" y="0" width="1.5" height="492" fill="#111"/>
<rect x="0" y="489.9" width="520" height="2.1" fill="#363636"/>
</svg></body></html>
